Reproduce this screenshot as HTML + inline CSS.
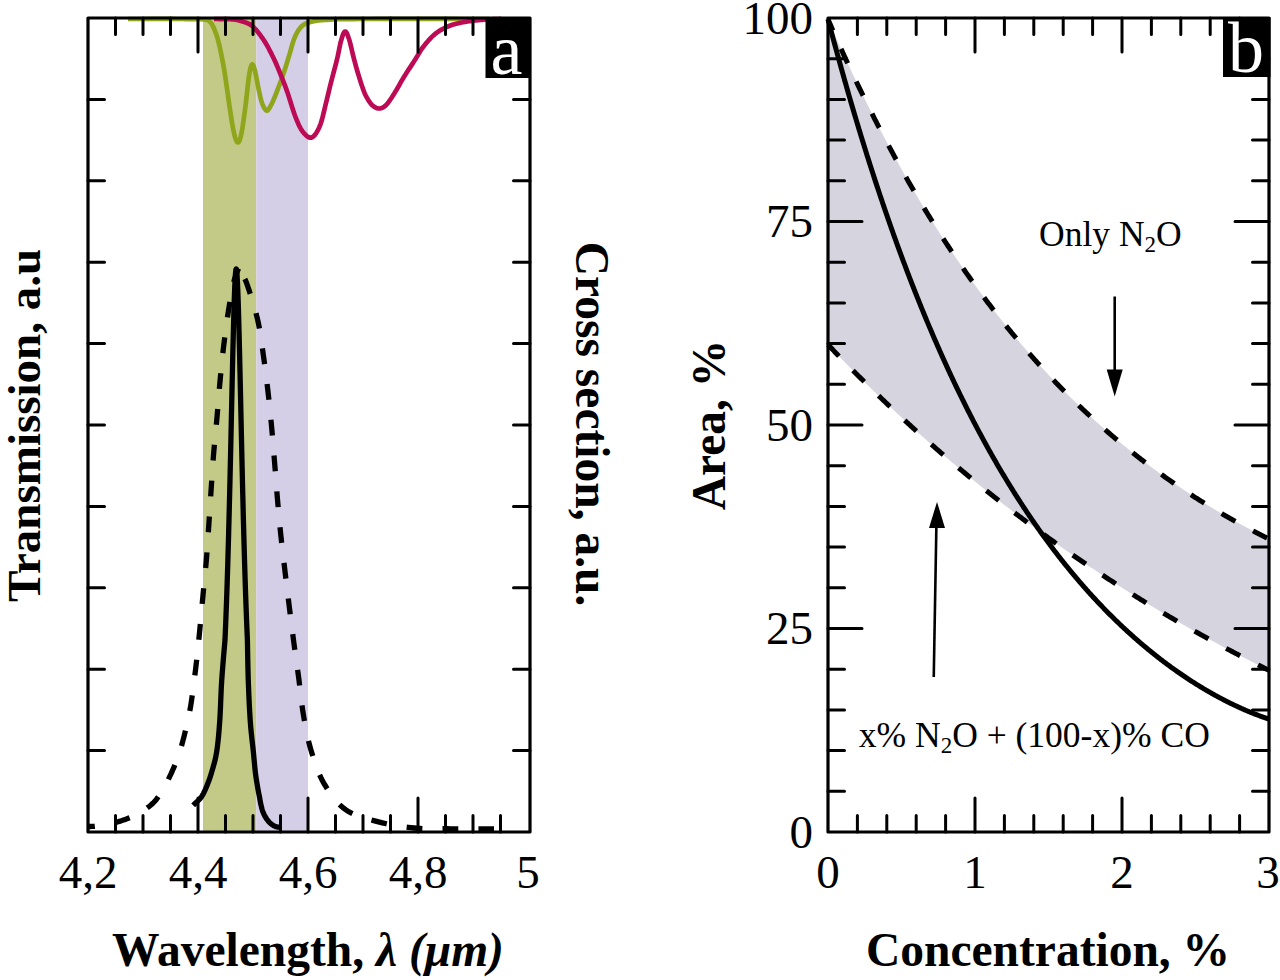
<!DOCTYPE html>
<html><head><meta charset="utf-8"><style>
html,body{margin:0;padding:0;background:#fff;}
body{width:1280px;height:980px;overflow:hidden;font-family:"Liberation Serif",serif;}
svg{display:block;}
</style></head><body>
<svg width="1280" height="980" viewBox="0 0 1280 980">
<rect width="1280" height="980" fill="#fff"/>
<!-- panel a -->
<rect x="203" y="18" width="53.3" height="814" fill="#C3C986"/>
<rect x="256.3" y="18" width="51.7" height="814" fill="#D4CEE6"/>
<path d="M128.00,19.00 L130.60,19.00 L133.98,18.99 L138.00,18.99 L142.52,18.98 L147.40,18.97 L152.50,18.97 L157.69,18.96 L162.81,18.96 L167.75,18.96 L172.35,18.97 L176.48,18.98 L180.00,19.00 L183.04,19.02 L185.82,19.03 L188.38,19.03 L190.72,19.04 L192.87,19.05 L194.84,19.06 L196.65,19.09 L198.33,19.13 L199.88,19.19 L201.33,19.27 L202.70,19.37 L204.00,19.50 L205.17,19.64 L206.13,19.79 L206.92,19.95 L207.57,20.11 L208.09,20.29 L208.52,20.50 L208.89,20.73 L209.21,21.00 L209.51,21.30 L209.83,21.65 L210.18,22.05 L210.60,22.50 L211.05,23.00 L211.47,23.56 L211.87,24.16 L212.25,24.80 L212.62,25.47 L212.97,26.19 L213.32,26.93 L213.66,27.70 L213.99,28.50 L214.33,29.32 L214.66,30.15 L215.00,31.00 L215.33,31.84 L215.66,32.66 L215.97,33.47 L216.27,34.30 L216.57,35.14 L216.87,36.03 L217.17,36.97 L217.47,37.98 L217.79,39.07 L218.11,40.27 L218.45,41.57 L218.80,43.00 L219.18,44.59 L219.57,46.34 L219.99,48.23 L220.41,50.22 L220.85,52.30 L221.29,54.44 L221.72,56.61 L222.15,58.78 L222.57,60.93 L222.97,63.03 L223.35,65.07 L223.70,67.00 L224.03,68.85 L224.33,70.65 L224.62,72.41 L224.89,74.15 L225.15,75.86 L225.40,77.56 L225.65,79.26 L225.89,80.96 L226.13,82.68 L226.38,84.42 L226.64,86.19 L226.90,88.00 L227.17,89.85 L227.44,91.73 L227.71,93.63 L227.97,95.56 L228.24,97.49 L228.51,99.44 L228.78,101.39 L229.06,103.33 L229.34,105.27 L229.62,107.20 L229.91,109.11 L230.20,111.00 L230.50,112.91 L230.80,114.87 L231.11,116.86 L231.43,118.87 L231.74,120.87 L232.06,122.84 L232.38,124.77 L232.71,126.63 L233.03,128.40 L233.36,130.07 L233.68,131.61 L234.00,133.00 L234.32,134.29 L234.65,135.53 L234.97,136.70 L235.30,137.80 L235.63,138.81 L235.96,139.72 L236.29,140.52 L236.62,141.20 L236.94,141.75 L237.27,142.16 L237.59,142.41 L237.90,142.50 L238.21,142.43 L238.51,142.22 L238.81,141.87 L239.11,141.39 L239.40,140.77 L239.69,140.03 L239.99,139.16 L240.28,138.17 L240.58,137.05 L240.88,135.82 L241.19,134.46 L241.50,133.00 L241.82,131.37 L242.15,129.55 L242.48,127.55 L242.82,125.41 L243.16,123.14 L243.51,120.78 L243.85,118.35 L244.19,115.87 L244.53,113.37 L244.86,110.88 L245.18,108.41 L245.50,106.00 L245.81,103.55 L246.12,100.96 L246.42,98.28 L246.72,95.54 L247.02,92.78 L247.31,90.03 L247.60,87.34 L247.89,84.74 L248.17,82.27 L248.45,79.96 L248.73,77.86 L249.00,76.00 L249.27,74.34 L249.53,72.80 L249.79,71.40 L250.04,70.13 L250.29,68.99 L250.53,67.97 L250.78,67.08 L251.02,66.31 L251.26,65.68 L251.51,65.16 L251.75,64.77 L252.00,64.50 L252.25,64.37 L252.49,64.40 L252.73,64.57 L252.97,64.87 L253.21,65.30 L253.45,65.84 L253.69,66.49 L253.94,67.24 L254.19,68.07 L254.45,68.98 L254.72,69.96 L255.00,71.00 L255.29,72.16 L255.59,73.51 L255.91,75.01 L256.23,76.63 L256.56,78.33 L256.89,80.09 L257.22,81.88 L257.55,83.65 L257.87,85.38 L258.19,87.04 L258.50,88.59 L258.80,90.00 L259.08,91.31 L259.35,92.58 L259.61,93.80 L259.87,94.98 L260.12,96.12 L260.36,97.22 L260.61,98.28 L260.87,99.30 L261.13,100.28 L261.40,101.22 L261.69,102.13 L262.00,103.00 L262.33,103.85 L262.67,104.70 L263.03,105.52 L263.41,106.31 L263.79,107.07 L264.17,107.78 L264.56,108.43 L264.95,109.02 L265.33,109.53 L265.70,109.95 L266.06,110.28 L266.40,110.50 L266.72,110.62 L267.03,110.64 L267.32,110.57 L267.60,110.43 L267.88,110.20 L268.16,109.91 L268.43,109.55 L268.72,109.13 L269.01,108.66 L269.32,108.14 L269.65,107.59 L270.00,107.00 L270.36,106.38 L270.73,105.72 L271.10,105.01 L271.49,104.26 L271.88,103.45 L272.28,102.59 L272.70,101.67 L273.14,100.69 L273.59,99.63 L274.07,98.50 L274.57,97.29 L275.10,96.00 L275.67,94.59 L276.28,93.06 L276.92,91.41 L277.60,89.67 L278.29,87.86 L278.99,86.00 L279.70,84.11 L280.40,82.22 L281.09,80.34 L281.76,78.50 L282.40,76.71 L283.00,75.00 L283.57,73.35 L284.11,71.71 L284.64,70.10 L285.15,68.50 L285.65,66.92 L286.14,65.34 L286.62,63.78 L287.09,62.22 L287.57,60.67 L288.04,59.11 L288.52,57.56 L289.00,56.00 L289.48,54.42 L289.95,52.81 L290.41,51.18 L290.86,49.54 L291.32,47.90 L291.77,46.28 L292.23,44.69 L292.69,43.13 L293.17,41.62 L293.66,40.17 L294.17,38.79 L294.70,37.50 L295.24,36.27 L295.78,35.10 L296.33,33.97 L296.89,32.89 L297.46,31.86 L298.04,30.88 L298.64,29.94 L299.26,29.06 L299.90,28.22 L300.57,27.43 L301.27,26.69 L302.00,26.00 L302.75,25.37 L303.52,24.81 L304.30,24.32 L305.11,23.88 L305.93,23.49 L306.79,23.14 L307.67,22.83 L308.59,22.54 L309.55,22.27 L310.55,22.01 L311.60,21.76 L312.70,21.50 L313.82,21.25 L314.92,21.03 L316.04,20.83 L317.17,20.66 L318.35,20.50 L319.58,20.36 L320.88,20.24 L322.27,20.12 L323.76,20.01 L325.37,19.91 L327.11,19.80 L329.00,19.70 L330.75,19.60 L332.17,19.51 L333.40,19.43 L334.58,19.36 L335.86,19.29 L337.39,19.24 L339.32,19.19 L341.79,19.14 L344.94,19.10 L348.93,19.06 L353.90,19.03 L360.00,19.00 L367.78,18.98 L377.44,18.96 L388.59,18.95 L400.81,18.95 L413.73,18.95 L426.94,18.96 L440.04,18.96 L452.63,18.97 L464.32,18.98 L474.71,18.99 L483.40,19.00 L490.00,19.00" fill="none" stroke="#8FA61C" stroke-width="4.7" stroke-linejoin="round"/>
<path d="M214.00,19.00 L214.90,19.01 L216.06,19.02 L217.45,19.02 L219.01,19.03 L220.69,19.03 L222.45,19.04 L224.24,19.06 L226.01,19.09 L227.73,19.12 L229.32,19.17 L230.76,19.23 L232.00,19.30 L233.05,19.38 L233.97,19.46 L234.79,19.55 L235.52,19.64 L236.19,19.74 L236.81,19.86 L237.41,19.99 L238.01,20.14 L238.63,20.31 L239.29,20.51 L240.00,20.74 L240.80,21.00 L241.66,21.27 L242.55,21.54 L243.46,21.81 L244.40,22.09 L245.36,22.39 L246.33,22.73 L247.31,23.11 L248.30,23.54 L249.28,24.04 L250.26,24.61 L251.24,25.26 L252.20,26.00 L253.16,26.84 L254.13,27.77 L255.11,28.77 L256.09,29.85 L257.07,30.99 L258.05,32.19 L259.02,33.43 L259.99,34.70 L260.94,36.01 L261.88,37.33 L262.80,38.66 L263.70,40.00 L264.58,41.36 L265.46,42.77 L266.32,44.22 L267.17,45.70 L268.01,47.22 L268.84,48.75 L269.65,50.30 L270.45,51.85 L271.24,53.41 L272.01,54.95 L272.76,56.49 L273.50,58.00 L274.22,59.51 L274.92,61.02 L275.61,62.55 L276.28,64.07 L276.94,65.60 L277.58,67.12 L278.21,68.64 L278.83,70.15 L279.44,71.64 L280.03,73.12 L280.62,74.57 L281.20,76.00 L281.76,77.37 L282.28,78.68 L282.79,79.93 L283.27,81.15 L283.75,82.35 L284.22,83.56 L284.69,84.80 L285.17,86.07 L285.66,87.41 L286.18,88.84 L286.72,90.36 L287.30,92.00 L287.91,93.80 L288.55,95.76 L289.22,97.85 L289.90,100.04 L290.60,102.29 L291.31,104.56 L292.03,106.84 L292.74,109.07 L293.45,111.24 L294.15,113.31 L294.83,115.24 L295.50,117.00 L296.15,118.63 L296.78,120.19 L297.39,121.68 L298.00,123.09 L298.61,124.44 L299.21,125.72 L299.82,126.93 L300.43,128.07 L301.05,129.15 L301.68,130.17 L302.33,131.11 L303.00,132.00 L303.69,132.85 L304.40,133.67 L305.12,134.45 L305.86,135.19 L306.60,135.85 L307.36,136.44 L308.11,136.93 L308.86,137.31 L309.61,137.58 L310.35,137.71 L311.08,137.68 L311.80,137.50 L312.51,137.15 L313.23,136.63 L313.94,135.98 L314.66,135.19 L315.37,134.27 L316.08,133.25 L316.77,132.13 L317.45,130.93 L318.12,129.65 L318.77,128.31 L319.40,126.92 L320.00,125.50 L320.58,123.98 L321.14,122.32 L321.69,120.53 L322.21,118.65 L322.73,116.69 L323.23,114.69 L323.71,112.66 L324.19,110.63 L324.65,108.62 L325.11,106.67 L325.56,104.79 L326.00,103.00 L326.43,101.31 L326.83,99.70 L327.20,98.14 L327.57,96.63 L327.92,95.14 L328.27,93.66 L328.62,92.16 L328.98,90.65 L329.35,89.09 L329.74,87.47 L330.15,85.78 L330.60,84.00 L331.08,82.10 L331.60,80.10 L332.15,78.01 L332.72,75.85 L333.31,73.65 L333.89,71.44 L334.48,69.22 L335.06,67.04 L335.61,64.90 L336.15,62.83 L336.64,60.86 L337.10,59.00 L337.52,57.23 L337.90,55.50 L338.26,53.81 L338.59,52.17 L338.90,50.57 L339.21,49.03 L339.50,47.54 L339.79,46.11 L340.08,44.74 L340.37,43.43 L340.68,42.18 L341.00,41.00 L341.33,39.86 L341.66,38.73 L341.99,37.63 L342.33,36.57 L342.66,35.58 L342.99,34.66 L343.33,33.82 L343.66,33.09 L344.00,32.48 L344.33,32.00 L344.67,31.67 L345.00,31.50 L345.33,31.50 L345.66,31.64 L345.99,31.93 L346.31,32.35 L346.64,32.89 L346.97,33.53 L347.30,34.27 L347.63,35.09 L347.96,35.99 L348.30,36.95 L348.65,37.95 L349.00,39.00 L349.36,40.15 L349.73,41.44 L350.11,42.86 L350.49,44.37 L350.88,45.96 L351.26,47.59 L351.65,49.25 L352.03,50.91 L352.41,52.54 L352.78,54.11 L353.15,55.61 L353.50,57.00 L353.84,58.30 L354.16,59.55 L354.48,60.76 L354.79,61.93 L355.09,63.07 L355.39,64.19 L355.69,65.30 L355.99,66.41 L356.30,67.52 L356.62,68.66 L356.95,69.81 L357.30,71.00 L357.66,72.23 L358.04,73.50 L358.43,74.80 L358.83,76.11 L359.23,77.43 L359.64,78.75 L360.05,80.05 L360.45,81.33 L360.85,82.58 L361.25,83.78 L361.63,84.92 L362.00,86.00 L362.35,87.01 L362.68,87.97 L363.00,88.88 L363.31,89.74 L363.62,90.57 L363.92,91.38 L364.23,92.16 L364.54,92.93 L364.88,93.69 L365.23,94.45 L365.60,95.22 L366.00,96.00 L366.43,96.80 L366.87,97.62 L367.34,98.45 L367.82,99.28 L368.32,100.10 L368.82,100.91 L369.34,101.69 L369.87,102.44 L370.40,103.16 L370.93,103.83 L371.47,104.45 L372.00,105.00 L372.54,105.50 L373.09,105.97 L373.66,106.40 L374.23,106.80 L374.81,107.15 L375.39,107.47 L375.97,107.75 L376.55,107.98 L377.12,108.18 L377.69,108.33 L378.25,108.44 L378.80,108.50 L379.34,108.51 L379.88,108.48 L380.41,108.39 L380.94,108.26 L381.47,108.09 L381.99,107.88 L382.50,107.63 L383.01,107.35 L383.52,107.05 L384.02,106.72 L384.51,106.37 L385.00,106.00 L385.47,105.61 L385.93,105.19 L386.38,104.75 L386.81,104.28 L387.25,103.78 L387.67,103.25 L388.11,102.69 L388.54,102.11 L388.98,101.50 L389.44,100.86 L389.91,100.19 L390.40,99.50 L390.91,98.77 L391.43,98.00 L391.96,97.19 L392.50,96.35 L393.05,95.48 L393.61,94.59 L394.17,93.68 L394.73,92.76 L395.30,91.82 L395.87,90.88 L396.44,89.94 L397.00,89.00 L397.55,88.07 L398.09,87.14 L398.61,86.22 L399.13,85.30 L399.65,84.36 L400.18,83.41 L400.72,82.43 L401.29,81.43 L401.88,80.39 L402.51,79.31 L403.18,78.18 L403.90,77.00 L404.68,75.75 L405.52,74.42 L406.42,73.02 L407.35,71.57 L408.31,70.09 L409.29,68.59 L410.28,67.09 L411.26,65.59 L412.22,64.12 L413.16,62.69 L414.05,61.31 L414.90,60.00 L415.69,58.75 L416.43,57.54 L417.13,56.37 L417.81,55.22 L418.47,54.10 L419.12,53.00 L419.78,51.91 L420.46,50.83 L421.15,49.76 L421.89,48.68 L422.66,47.60 L423.50,46.50 L424.38,45.38 L425.30,44.25 L426.24,43.10 L427.21,41.94 L428.20,40.79 L429.22,39.66 L430.26,38.54 L431.31,37.44 L432.39,36.39 L433.48,35.37 L434.58,34.41 L435.70,33.50 L436.83,32.65 L437.98,31.83 L439.14,31.05 L440.32,30.31 L441.52,29.61 L442.74,28.94 L443.97,28.30 L445.22,27.69 L446.49,27.10 L447.78,26.54 L449.08,26.01 L450.40,25.50 L451.75,25.02 L453.12,24.58 L454.53,24.17 L455.95,23.79 L457.39,23.44 L458.85,23.12 L460.31,22.82 L461.78,22.53 L463.25,22.26 L464.71,22.00 L466.16,21.75 L467.60,21.50 L469.03,21.26 L470.48,21.05 L471.92,20.85 L473.37,20.66 L474.82,20.49 L476.27,20.34 L477.71,20.19 L479.14,20.06 L480.55,19.93 L481.96,19.82 L483.34,19.71 L484.70,19.60 L486.09,19.50 L487.53,19.42 L489.01,19.34 L490.50,19.28 L491.98,19.23 L493.42,19.18 L494.80,19.14 L496.10,19.11 L497.29,19.08 L498.36,19.05 L499.27,19.02 L500.00,19.00" fill="none" stroke="#BC0A55" stroke-width="4.7" stroke-linejoin="round"/>
<path d="M88.00,826.50 L88.33,826.49 L88.72,826.49 L89.16,826.49 L89.66,826.49 L90.21,826.48 L90.80,826.48 L91.44,826.46 L92.12,826.44 L92.84,826.40 L93.59,826.35 L94.38,826.29 L95.20,826.20 L96.06,826.10 L96.98,825.99 L97.95,825.87 L98.96,825.74 L100.01,825.59 L101.09,825.44 L102.21,825.27 L103.34,825.09 L104.49,824.89 L105.66,824.67 L106.83,824.45 L108.00,824.20 L109.19,823.94 L110.41,823.66 L111.66,823.37 L112.94,823.07 L114.23,822.75 L115.53,822.42 L116.84,822.07 L118.15,821.71 L119.46,821.33 L120.76,820.93 L122.04,820.53 L123.30,820.10 L124.55,819.67 L125.78,819.23 L127.01,818.78 L128.24,818.32 L129.46,817.84 L130.68,817.35 L131.90,816.83 L133.11,816.29 L134.33,815.72 L135.55,815.12 L136.77,814.48 L138.00,813.80 L139.24,813.08 L140.51,812.33 L141.80,811.55 L143.10,810.73 L144.39,809.89 L145.68,809.02 L146.95,808.12 L148.20,807.20 L149.42,806.26 L150.60,805.29 L151.73,804.30 L152.80,803.30 L153.82,802.28 L154.78,801.23 L155.71,800.17 L156.59,799.08 L157.45,797.97 L158.28,796.83 L159.08,795.67 L159.87,794.49 L160.66,793.28 L161.43,792.05 L162.21,790.79 L163.00,789.50 L163.79,788.17 L164.57,786.80 L165.35,785.38 L166.11,783.94 L166.87,782.46 L167.62,780.98 L168.35,779.48 L169.07,777.97 L169.78,776.48 L170.47,775.00 L171.14,773.53 L171.80,772.10 L172.44,770.69 L173.06,769.29 L173.66,767.90 L174.25,766.52 L174.83,765.15 L175.39,763.78 L175.94,762.40 L176.47,761.03 L176.99,759.66 L177.51,758.28 L178.01,756.89 L178.50,755.50 L178.98,754.10 L179.44,752.70 L179.89,751.29 L180.33,749.88 L180.75,748.47 L181.16,747.06 L181.57,745.64 L181.96,744.22 L182.35,742.79 L182.74,741.37 L183.12,739.94 L183.50,738.50 L183.88,737.06 L184.24,735.61 L184.60,734.16 L184.96,732.71 L185.30,731.25 L185.64,729.79 L185.98,728.33 L186.31,726.87 L186.64,725.40 L186.96,723.93 L187.28,722.47 L187.60,721.00 L187.91,719.59 L188.20,718.27 L188.49,717.01 L188.77,715.79 L189.04,714.56 L189.31,713.29 L189.59,711.97 L189.87,710.55 L190.15,709.00 L190.45,707.30 L190.77,705.41 L191.10,703.30 L191.45,700.95 L191.82,698.38 L192.21,695.62 L192.61,692.71 L193.02,689.67 L193.43,686.53 L193.84,683.33 L194.26,680.10 L194.66,676.87 L195.05,673.68 L195.44,670.54 L195.80,667.50 L196.15,664.52 L196.49,661.53 L196.83,658.54 L197.15,655.56 L197.47,652.57 L197.79,649.58 L198.10,646.60 L198.40,643.61 L198.71,640.63 L199.01,637.65 L199.30,634.67 L199.60,631.70 L199.89,628.73 L200.18,625.77 L200.46,622.80 L200.73,619.84 L201.01,616.89 L201.28,613.93 L201.54,610.98 L201.81,608.02 L202.08,605.07 L202.35,602.11 L202.62,599.16 L202.90,596.20 L203.18,593.24 L203.47,590.28 L203.76,587.33 L204.06,584.37 L204.36,581.41 L204.65,578.46 L204.94,575.50 L205.23,572.54 L205.51,569.58 L205.78,566.62 L206.05,563.66 L206.30,560.70 L206.54,557.74 L206.77,554.79 L206.99,551.83 L207.20,548.88 L207.41,545.93 L207.61,542.98 L207.81,540.02 L208.01,537.05 L208.20,534.08 L208.40,531.10 L208.60,528.11 L208.80,525.10 L209.00,522.08 L209.20,519.03 L209.40,515.97 L209.60,512.90 L209.80,509.83 L210.00,506.74 L210.20,503.66 L210.40,500.59 L210.60,497.52 L210.80,494.46 L211.00,491.42 L211.20,488.40 L211.40,485.40 L211.60,482.42 L211.80,479.46 L211.99,476.51 L212.19,473.56 L212.39,470.62 L212.59,467.68 L212.80,464.74 L213.01,461.80 L213.23,458.85 L213.46,455.88 L213.70,452.90 L213.95,449.91 L214.21,446.90 L214.48,443.89 L214.76,440.87 L215.05,437.85 L215.34,434.82 L215.63,431.79 L215.92,428.76 L216.21,425.73 L216.50,422.70 L216.78,419.67 L217.05,416.65 L217.31,413.62 L217.57,410.59 L217.82,407.55 L218.07,404.51 L218.31,401.46 L218.56,398.42 L218.81,395.39 L219.05,392.36 L219.31,389.35 L219.56,386.35 L219.83,383.36 L220.10,380.40 L220.38,377.46 L220.65,374.56 L220.93,371.68 L221.21,368.81 L221.49,365.96 L221.78,363.11 L222.07,360.26 L222.37,357.40 L222.69,354.53 L223.01,351.63 L223.35,348.71 L223.70,345.75 L224.07,342.72 L224.46,339.62 L224.87,336.45 L225.29,333.24 L225.72,330.02 L226.15,326.81 L226.59,323.62 L227.04,320.49 L227.47,317.44 L227.91,314.48 L228.34,311.64 L228.75,308.95 L229.16,306.37 L229.56,303.86 L229.95,301.43 L230.35,299.07 L230.74,296.79 L231.13,294.58 L231.52,292.45 L231.91,290.40 L232.30,288.43 L232.70,286.54 L233.10,284.73 L233.50,283.00 L233.92,281.34 L234.38,279.75 L234.85,278.23 L235.33,276.78 L235.82,275.41 L236.30,274.13 L236.76,272.93 L237.19,271.84 L237.60,270.84 L237.95,269.95 L238.26,269.16 L238.50,268.50" fill="none" stroke="#000" stroke-width="5.3" stroke-dasharray="15.8 20.150" stroke-dashoffset="8.947"/>
<path d="M238.50,268.50 L238.69,268.80 L238.92,269.15 L239.19,269.56 L239.49,270.02 L239.82,270.52 L240.18,271.06 L240.55,271.64 L240.93,272.26 L241.33,272.90 L241.72,273.58 L242.11,274.28 L242.50,275.00 L242.87,275.69 L243.23,276.31 L243.59,276.89 L243.94,277.47 L244.31,278.09 L244.69,278.77 L245.09,279.54 L245.52,280.45 L245.98,281.52 L246.49,282.79 L247.04,284.29 L247.65,286.05 L248.34,288.11 L249.11,290.45 L249.95,293.04 L250.85,295.83 L251.77,298.79 L252.72,301.87 L253.67,305.03 L254.60,308.24 L255.51,311.45 L256.36,314.62 L257.14,317.72 L257.85,320.70 L258.48,323.61 L259.06,326.52 L259.60,329.44 L260.09,332.35 L260.56,335.27 L261.00,338.20 L261.42,341.13 L261.83,344.07 L262.23,347.01 L262.63,349.97 L263.03,352.93 L263.45,355.90 L263.87,358.89 L264.29,361.89 L264.69,364.91 L265.09,367.94 L265.49,370.98 L265.88,374.02 L266.25,377.07 L266.63,380.11 L266.99,383.14 L267.35,386.16 L267.70,389.16 L268.05,392.15 L268.39,395.12 L268.71,398.06 L269.03,400.99 L269.34,403.91 L269.65,406.82 L269.95,409.73 L270.24,412.64 L270.53,415.56 L270.81,418.48 L271.09,421.42 L271.37,424.37 L271.65,427.35 L271.92,430.35 L272.19,433.38 L272.46,436.42 L272.72,439.47 L272.97,442.54 L273.23,445.61 L273.47,448.68 L273.72,451.74 L273.97,454.80 L274.21,457.85 L274.46,460.89 L274.70,463.90 L274.94,466.90 L275.18,469.88 L275.41,472.85 L275.63,475.81 L275.86,478.77 L276.08,481.72 L276.31,484.66 L276.54,487.61 L276.77,490.55 L277.01,493.50 L277.25,496.45 L277.50,499.40 L277.75,502.36 L278.01,505.32 L278.27,508.27 L278.53,511.23 L278.80,514.19 L279.07,517.14 L279.34,520.10 L279.62,523.06 L279.91,526.02 L280.20,528.98 L280.50,531.94 L280.80,534.90 L281.11,537.86 L281.43,540.83 L281.76,543.80 L282.10,546.76 L282.44,549.73 L282.79,552.70 L283.14,555.67 L283.49,558.64 L283.84,561.60 L284.20,564.57 L284.55,567.54 L284.90,570.50 L285.25,573.46 L285.60,576.42 L285.96,579.38 L286.31,582.34 L286.67,585.30 L287.02,588.26 L287.38,591.21 L287.74,594.17 L288.11,597.13 L288.47,600.08 L288.83,603.04 L289.20,606.00 L289.57,608.96 L289.93,611.91 L290.30,614.85 L290.67,617.80 L291.04,620.75 L291.41,623.69 L291.78,626.64 L292.16,629.60 L292.54,632.56 L292.92,635.53 L293.31,638.51 L293.70,641.50 L294.10,644.50 L294.51,647.52 L294.92,650.54 L295.34,653.57 L295.77,656.61 L296.19,659.65 L296.62,662.69 L297.04,665.74 L297.47,668.79 L297.88,671.83 L298.30,674.87 L298.70,677.90 L299.09,680.93 L299.46,683.97 L299.81,687.01 L300.16,690.06 L300.50,693.10 L300.85,696.14 L301.21,699.18 L301.57,702.21 L301.96,705.23 L302.38,708.23 L302.82,711.22 L303.30,714.20 L303.80,717.16 L304.31,720.11 L304.83,723.06 L305.36,725.99 L305.91,728.91 L306.49,731.83 L307.09,734.73 L307.73,737.62 L308.40,740.51 L309.12,743.38 L309.89,746.25 L310.70,749.10 L311.55,751.96 L312.41,754.84 L313.30,757.72 L314.22,760.61 L315.18,763.48 L316.18,766.34 L317.23,769.17 L318.34,771.96 L319.52,774.71 L320.77,777.40 L322.09,780.04 L323.50,782.60 L324.98,785.13 L326.51,787.66 L328.09,790.17 L329.74,792.65 L331.45,795.09 L333.23,797.47 L335.08,799.77 L337.01,801.99 L339.03,804.11 L341.13,806.11 L343.32,807.98 L345.60,809.70 L348.01,811.27 L350.56,812.69 L353.23,813.99 L356.00,815.16 L358.86,816.24 L361.78,817.23 L364.73,818.14 L367.72,818.99 L370.71,819.80 L373.68,820.58 L376.62,821.34 L379.50,822.10 L382.35,822.84 L385.19,823.52 L388.03,824.15 L390.88,824.74 L393.73,825.28 L396.58,825.77 L399.45,826.23 L402.32,826.65 L405.21,827.04 L408.12,827.39 L411.05,827.71 L414.00,828.00 L416.98,828.25 L420.00,828.44 L423.05,828.57 L426.13,828.67 L429.21,828.73 L432.31,828.76 L435.40,828.77 L438.49,828.77 L441.56,828.76 L444.60,828.76 L447.62,828.77 L450.60,828.80 L453.62,828.84 L456.75,828.87 L459.95,828.90 L463.17,828.92 L466.38,828.94 L469.53,828.95 L472.58,828.96 L475.50,828.97 L478.24,828.98 L480.76,828.99 L483.03,828.99 L485.00,829.00 L486.67,829.01 L488.07,829.01 L489.25,829.01 L490.21,829.01 L491.01,829.01 L491.65,829.01 L492.17,829.01 L492.61,829.01 L492.98,829.00 L493.31,829.00 L493.65,829.00 L494.00,829.00" fill="none" stroke="#000" stroke-width="5.3" stroke-dasharray="15.8 20.130" stroke-dashoffset="23.691"/>
<path d="M193.20,805.30 L193.28,805.22 L193.37,805.13 L193.46,805.04 L193.57,804.94 L193.68,804.82 L193.82,804.69 L193.97,804.53 L194.16,804.35 L194.36,804.14 L194.61,803.90 L194.88,803.62 L195.20,803.30 L195.57,802.94 L195.99,802.55 L196.46,802.14 L196.97,801.69 L197.50,801.21 L198.06,800.71 L198.62,800.17 L199.19,799.61 L199.75,799.02 L200.29,798.41 L200.81,797.77 L201.30,797.10 L201.76,796.41 L202.21,795.69 L202.65,794.95 L203.07,794.18 L203.50,793.38 L203.91,792.56 L204.33,791.70 L204.74,790.82 L205.15,789.91 L205.56,788.97 L205.98,788.00 L206.40,787.00 L206.83,785.98 L207.25,784.93 L207.68,783.87 L208.10,782.77 L208.53,781.65 L208.95,780.50 L209.38,779.31 L209.80,778.08 L210.22,776.81 L210.65,775.49 L211.07,774.12 L211.50,772.70 L211.93,771.24 L212.37,769.76 L212.82,768.25 L213.27,766.70 L213.73,765.11 L214.18,763.47 L214.62,761.77 L215.05,760.01 L215.47,758.18 L215.87,756.27 L216.25,754.28 L216.60,752.20 L216.93,750.04 L217.25,747.80 L217.54,745.50 L217.82,743.13 L218.09,740.68 L218.34,738.17 L218.59,735.58 L218.82,732.93 L219.05,730.20 L219.27,727.41 L219.49,724.54 L219.70,721.60 L219.90,718.56 L220.08,715.39 L220.25,712.12 L220.40,708.76 L220.55,705.33 L220.69,701.85 L220.83,698.33 L220.98,694.79 L221.13,691.25 L221.30,687.73 L221.49,684.24 L221.70,680.80 L221.94,677.26 L222.21,673.51 L222.51,669.61 L222.83,665.63 L223.15,661.66 L223.47,657.76 L223.79,653.99 L224.10,650.44 L224.38,647.18 L224.63,644.27 L224.84,641.79 L225.00,639.81 L225.33,632.22 L225.66,624.26 L225.99,615.90 L226.32,607.13 L226.66,597.93 L226.99,588.29 L227.32,578.20 L227.65,567.65 L227.98,556.62 L228.31,545.11 L228.64,533.13 L228.97,520.67 L229.30,507.74 L229.63,494.38 L229.97,480.59 L230.30,466.43 L230.63,451.94 L230.96,437.19 L231.29,422.24 L231.62,407.20 L231.95,392.18 L232.28,377.30 L232.61,362.70 L232.94,348.55 L233.28,335.00 L233.61,322.24 L233.94,310.46 L234.27,299.83 L234.60,290.54 L234.70,288.02 L235.00,281.32 L235.30,276.00 L235.60,272.13 L235.90,269.79 L236.20,269.00 L236.50,269.79 L236.80,272.13 L237.10,276.00 L237.40,281.32 L237.70,288.02 L237.80,290.54 L238.13,299.83 L238.46,310.46 L238.79,322.24 L239.12,335.00 L239.46,348.55 L239.79,362.70 L240.12,377.30 L240.45,392.18 L240.78,407.20 L241.11,422.24 L241.44,437.19 L241.77,451.94 L242.10,466.43 L242.43,480.59 L242.77,494.38 L243.10,507.74 L243.43,520.67 L243.76,533.13 L244.09,545.11 L244.42,556.62 L244.75,567.65 L245.08,578.20 L245.41,588.29 L245.74,597.93 L246.08,607.13 L246.41,615.90 L246.74,624.26 L247.07,632.22 L247.40,639.81 L247.44,641.79 L247.49,644.27 L247.54,647.18 L247.59,650.44 L247.66,653.99 L247.72,657.76 L247.80,661.66 L247.89,665.63 L247.98,669.61 L248.08,673.51 L248.18,677.26 L248.30,680.80 L248.42,684.24 L248.56,687.73 L248.70,691.25 L248.84,694.79 L249.00,698.33 L249.16,701.85 L249.33,705.33 L249.51,708.76 L249.70,712.12 L249.89,715.39 L250.09,718.56 L250.30,721.60 L250.52,724.54 L250.77,727.41 L251.02,730.20 L251.29,732.93 L251.57,735.58 L251.85,738.17 L252.13,740.68 L252.41,743.13 L252.68,745.50 L252.93,747.80 L253.18,750.04 L253.40,752.20 L253.60,754.28 L253.79,756.27 L253.97,758.18 L254.14,760.01 L254.30,761.77 L254.46,763.47 L254.61,765.11 L254.76,766.70 L254.91,768.25 L255.07,769.76 L255.23,771.24 L255.40,772.70 L255.58,774.12 L255.76,775.49 L255.94,776.81 L256.13,778.08 L256.32,779.31 L256.51,780.50 L256.69,781.65 L256.88,782.77 L257.07,783.87 L257.25,784.93 L257.43,785.98 L257.60,787.00 L257.77,788.00 L257.94,788.95 L258.11,789.87 L258.27,790.76 L258.43,791.62 L258.59,792.45 L258.75,793.26 L258.91,794.05 L259.06,794.83 L259.21,795.59 L259.36,796.35 L259.50,797.10 L259.64,797.83 L259.76,798.54 L259.88,799.22 L259.99,799.87 L260.10,800.52 L260.21,801.15 L260.32,801.78 L260.43,802.40 L260.56,803.03 L260.69,803.67 L260.84,804.33 L261.00,805.00 L261.17,805.69 L261.34,806.39 L261.51,807.09 L261.69,807.80 L261.88,808.52 L262.07,809.24 L262.28,809.96 L262.51,810.67 L262.75,811.39 L263.01,812.10 L263.29,812.80 L263.60,813.50 L263.93,814.20 L264.29,814.91 L264.68,815.64 L265.08,816.36 L265.50,817.08 L265.93,817.79 L266.38,818.49 L266.83,819.17 L267.30,819.83 L267.76,820.46 L268.23,821.05 L268.70,821.60 L269.17,822.12 L269.66,822.61 L270.15,823.07 L270.66,823.51 L271.17,823.93 L271.69,824.33 L272.21,824.69 L272.73,825.04 L273.25,825.36 L273.77,825.66 L274.29,825.94 L274.80,826.20 L275.33,826.43 L275.89,826.62 L276.47,826.79 L277.06,826.93 L277.65,827.04 L278.23,827.14 L278.79,827.22 L279.32,827.29 L279.80,827.34 L280.24,827.40 L280.61,827.45 L280.90,827.50" fill="none" stroke="#000" stroke-width="5.3" stroke-linejoin="round"/>
<path d="M115.50,18v16.5 M115.50,832v-16.5 M143.00,18v16.5 M143.00,832v-16.5 M170.50,18v16.5 M170.50,832v-16.5 M198.00,18v34 M198.00,832v-34 M225.50,18v16.5 M225.50,832v-16.5 M253.00,18v16.5 M253.00,832v-16.5 M280.50,18v16.5 M280.50,832v-16.5 M308.00,18v34 M308.00,832v-34 M335.50,18v16.5 M335.50,832v-16.5 M363.00,18v16.5 M363.00,832v-16.5 M390.50,18v16.5 M390.50,832v-16.5 M418.00,18v34 M418.00,832v-34 M445.50,18v16.5 M445.50,832v-16.5 M473.00,18v16.5 M473.00,832v-16.5 M500.50,18v16.5 M500.50,832v-16.5 M88,99.40h16.5 M530,99.40h-16.5 M88,180.80h16.5 M530,180.80h-16.5 M88,262.20h16.5 M530,262.20h-16.5 M88,343.60h16.5 M530,343.60h-16.5 M88,425.00h16.5 M530,425.00h-16.5 M88,506.40h16.5 M530,506.40h-16.5 M88,587.80h16.5 M530,587.80h-16.5 M88,669.20h16.5 M530,669.20h-16.5 M88,750.60h16.5 M530,750.60h-16.5" stroke="#000" stroke-width="3" stroke-linecap="round" fill="none"/>
<rect x="88" y="18" width="442" height="814" fill="none" stroke="#000" stroke-width="3.2" stroke-linejoin="round"/>
<rect x="485.5" y="17" width="45" height="61" fill="#000"/>
<text x="506.5" y="73.5" font-family="Liberation Serif" font-size="72" fill="#fff" text-anchor="middle">a</text>
<!-- panel b -->
<path d="M828.00,19.26 L828.74,20.97 L829.47,22.66 L830.21,24.36 L830.94,26.04 L831.68,27.73 L832.42,29.41 L833.15,31.08 L833.89,32.75 L834.63,34.42 L835.36,36.08 L836.10,37.74 L836.83,39.40 L837.57,41.05 L838.31,42.69 L839.04,44.33 L839.78,45.97 L840.52,47.60 L841.25,49.23 L841.99,50.86 L842.72,52.48 L843.46,54.09 L844.20,55.70 L844.93,57.31 L845.67,58.91 L846.41,60.51 L847.14,62.11 L847.88,63.70 L848.61,65.29 L849.35,66.87 L850.09,68.45 L850.82,70.02 L851.56,71.60 L852.30,73.16 L853.03,74.73 L853.77,76.28 L854.50,77.84 L855.24,79.39 L855.98,80.94 L856.71,82.48 L857.45,84.02 L858.19,85.55 L858.92,87.08 L859.66,88.61 L860.39,90.13 L861.13,91.65 L861.87,93.17 L862.60,94.68 L863.34,96.19 L864.08,97.69 L864.81,99.19 L865.55,100.68 L866.28,102.18 L867.02,103.66 L867.76,105.15 L868.49,106.63 L869.23,108.11 L869.96,109.58 L870.70,111.05 L871.44,112.51 L872.17,113.97 L872.91,115.43 L873.65,116.89 L874.38,118.34 L875.12,119.78 L875.85,121.23 L876.59,122.66 L877.33,124.10 L878.06,125.53 L878.80,126.96 L879.54,128.38 L880.27,129.80 L881.01,131.22 L881.74,132.63 L882.48,134.04 L883.22,135.45 L883.95,136.85 L884.69,138.25 L885.43,139.65 L886.16,141.04 L886.90,142.43 L887.63,143.81 L888.37,145.19 L889.11,146.57 L889.84,147.94 L890.58,149.31 L891.32,150.68 L892.05,152.04 L892.79,153.40 L893.52,154.76 L894.26,156.11 L895.00,157.46 L895.73,158.81 L896.47,160.15 L897.21,161.49 L897.94,162.82 L898.68,164.15 L899.41,165.48 L900.15,166.81 L900.89,168.13 L901.62,169.45 L902.36,170.76 L903.10,172.07 L903.83,173.38 L904.57,174.69 L905.30,175.99 L906.04,177.29 L906.78,178.58 L907.51,179.87 L908.25,181.16 L908.98,182.44 L909.72,183.73 L910.46,185.00 L911.19,186.28 L911.93,187.55 L912.67,188.82 L913.40,190.08 L914.14,191.34 L914.87,192.60 L915.61,193.86 L916.35,195.11 L917.08,196.36 L917.82,197.60 L918.56,198.85 L919.29,200.09 L920.03,201.32 L920.76,202.55 L921.50,203.78 L922.24,205.01 L922.97,206.23 L923.71,207.45 L924.45,208.67 L925.18,209.88 L925.92,211.09 L926.65,212.30 L927.39,213.51 L928.13,214.71 L928.86,215.91 L929.60,217.10 L930.34,218.29 L931.07,219.48 L931.81,220.67 L932.54,221.85 L933.28,223.03 L934.02,224.21 L934.75,225.38 L935.49,226.55 L936.23,227.72 L936.96,228.89 L937.70,230.05 L938.43,231.21 L939.17,232.36 L939.91,233.51 L940.64,234.66 L941.38,235.81 L942.12,236.96 L942.85,238.10 L943.59,239.23 L944.32,240.37 L945.06,241.50 L945.80,242.63 L946.53,243.76 L947.27,244.88 L948.01,246.00 L948.74,247.12 L949.48,248.23 L950.21,249.35 L950.95,250.45 L951.69,251.56 L952.42,252.66 L953.16,253.76 L953.89,254.86 L954.63,255.96 L955.37,257.05 L956.10,258.14 L956.84,259.22 L957.58,260.31 L958.31,261.39 L959.05,262.47 L959.78,263.54 L960.52,264.61 L961.26,265.68 L961.99,266.75 L962.73,267.82 L963.47,268.88 L964.20,269.94 L964.94,270.99 L965.67,272.05 L966.41,273.10 L967.15,274.14 L967.88,275.19 L968.62,276.23 L969.36,277.27 L970.09,278.31 L970.83,279.34 L971.56,280.37 L972.30,281.40 L973.04,282.43 L973.77,283.45 L974.51,284.48 L975.25,285.49 L975.98,286.51 L976.72,287.52 L977.45,288.53 L978.19,289.54 L978.93,290.55 L979.66,291.55 L980.40,292.55 L981.14,293.55 L981.87,294.54 L982.61,295.54 L983.34,296.53 L984.08,297.51 L984.82,298.50 L985.55,299.48 L986.29,300.46 L987.03,301.44 L987.76,302.41 L988.50,303.39 L989.23,304.36 L989.97,305.32 L990.71,306.29 L991.44,307.25 L992.18,308.21 L992.91,309.17 L993.65,310.12 L994.39,311.08 L995.12,312.03 L995.86,312.97 L996.60,313.92 L997.33,314.86 L998.07,315.80 L998.80,316.74 L999.54,317.68 L1000.28,318.61 L1001.01,319.54 L1001.75,320.47 L1002.49,321.39 L1003.22,322.32 L1003.96,323.24 L1004.69,324.16 L1005.43,325.07 L1006.17,325.99 L1006.90,326.90 L1007.64,327.81 L1008.38,328.72 L1009.11,329.62 L1009.85,330.52 L1010.58,331.42 L1011.32,332.32 L1012.06,333.22 L1012.79,334.11 L1013.53,335.00 L1014.27,335.89 L1015.00,336.77 L1015.74,337.66 L1016.47,338.54 L1017.21,339.42 L1017.95,340.30 L1018.68,341.17 L1019.42,342.04 L1020.16,342.91 L1020.89,343.78 L1021.63,344.65 L1022.36,345.51 L1023.10,346.37 L1023.84,347.23 L1024.57,348.09 L1025.31,348.94 L1026.05,349.80 L1026.78,350.65 L1027.52,351.50 L1028.25,352.34 L1028.99,353.19 L1029.73,354.03 L1030.46,354.87 L1031.20,355.70 L1031.93,356.54 L1032.67,357.37 L1033.41,358.20 L1034.14,359.03 L1034.88,359.86 L1035.62,360.68 L1036.35,361.50 L1037.09,362.32 L1037.82,363.14 L1038.56,363.96 L1039.30,364.77 L1040.03,365.58 L1040.77,366.39 L1041.51,367.20 L1042.24,368.01 L1042.98,368.81 L1043.71,369.61 L1044.45,370.41 L1045.19,371.21 L1045.92,372.00 L1046.66,372.80 L1047.40,373.59 L1048.13,374.38 L1048.87,375.16 L1049.60,375.95 L1050.34,376.73 L1051.08,377.51 L1051.81,378.29 L1052.55,379.07 L1053.29,379.84 L1054.02,380.62 L1054.76,381.39 L1055.49,382.16 L1056.23,382.93 L1056.97,383.69 L1057.70,384.45 L1058.44,385.21 L1059.18,385.97 L1059.91,386.73 L1060.65,387.49 L1061.38,388.24 L1062.12,388.99 L1062.86,389.74 L1063.59,390.49 L1064.33,391.23 L1065.07,391.98 L1065.80,392.72 L1066.54,393.46 L1067.27,394.20 L1068.01,394.93 L1068.75,395.67 L1069.48,396.40 L1070.22,397.13 L1070.95,397.86 L1071.69,398.58 L1072.43,399.31 L1073.16,400.03 L1073.90,400.75 L1074.64,401.47 L1075.37,402.19 L1076.11,402.90 L1076.84,403.62 L1077.58,404.33 L1078.32,405.04 L1079.05,405.75 L1079.79,406.45 L1080.53,407.16 L1081.26,407.86 L1082.00,408.56 L1082.73,409.26 L1083.47,409.96 L1084.21,410.65 L1084.94,411.35 L1085.68,412.04 L1086.42,412.73 L1087.15,413.42 L1087.89,414.10 L1088.62,414.79 L1089.36,415.47 L1090.10,416.15 L1090.83,416.83 L1091.57,417.51 L1092.31,418.19 L1093.04,418.86 L1093.78,419.53 L1094.51,420.20 L1095.25,420.87 L1095.99,421.54 L1096.72,422.21 L1097.46,422.87 L1098.20,423.53 L1098.93,424.19 L1099.67,424.85 L1100.40,425.51 L1101.14,426.16 L1101.88,426.82 L1102.61,427.47 L1103.35,428.12 L1104.09,428.77 L1104.82,429.42 L1105.56,430.06 L1106.29,430.70 L1107.03,431.35 L1107.77,431.99 L1108.50,432.63 L1109.24,433.26 L1109.97,433.90 L1110.71,434.53 L1111.45,435.16 L1112.18,435.80 L1112.92,436.42 L1113.66,437.05 L1114.39,437.68 L1115.13,438.30 L1115.86,438.92 L1116.60,439.54 L1117.34,440.16 L1118.07,440.78 L1118.81,441.40 L1119.55,442.01 L1120.28,442.62 L1121.02,443.24 L1121.75,443.85 L1122.49,444.45 L1123.23,445.06 L1123.96,445.67 L1124.70,446.27 L1125.44,446.87 L1126.17,447.47 L1126.91,448.07 L1127.64,448.67 L1128.38,449.26 L1129.12,449.86 L1129.85,450.45 L1130.59,451.04 L1131.33,451.63 L1132.06,452.22 L1132.80,452.81 L1133.53,453.39 L1134.27,453.97 L1135.01,454.56 L1135.74,455.14 L1136.48,455.72 L1137.22,456.29 L1137.95,456.87 L1138.69,457.44 L1139.42,458.02 L1140.16,458.59 L1140.90,459.16 L1141.63,459.73 L1142.37,460.30 L1143.11,460.86 L1143.84,461.43 L1144.58,461.99 L1145.31,462.55 L1146.05,463.11 L1146.79,463.67 L1147.52,464.23 L1148.26,464.78 L1148.99,465.34 L1149.73,465.89 L1150.47,466.44 L1151.20,466.99 L1151.94,467.54 L1152.68,468.09 L1153.41,468.63 L1154.15,469.18 L1154.88,469.72 L1155.62,470.26 L1156.36,470.80 L1157.09,471.34 L1157.83,471.88 L1158.57,472.41 L1159.30,472.95 L1160.04,473.48 L1160.77,474.01 L1161.51,474.54 L1162.25,475.07 L1162.98,475.60 L1163.72,476.13 L1164.46,476.65 L1165.19,477.17 L1165.93,477.70 L1166.66,478.22 L1167.40,478.74 L1168.14,479.26 L1168.87,479.77 L1169.61,480.29 L1170.35,480.80 L1171.08,481.32 L1171.82,481.83 L1172.55,482.34 L1173.29,482.85 L1174.03,483.35 L1174.76,483.86 L1175.50,484.37 L1176.24,484.87 L1176.97,485.37 L1177.71,485.87 L1178.44,486.37 L1179.18,486.87 L1179.92,487.37 L1180.65,487.87 L1181.39,488.36 L1182.13,488.85 L1182.86,489.35 L1183.60,489.84 L1184.33,490.33 L1185.07,490.82 L1185.81,491.30 L1186.54,491.79 L1187.28,492.27 L1188.02,492.76 L1188.75,493.24 L1189.49,493.72 L1190.22,494.20 L1190.96,494.68 L1191.70,495.16 L1192.43,495.63 L1193.17,496.11 L1193.90,496.58 L1194.64,497.05 L1195.38,497.52 L1196.11,497.99 L1196.85,498.46 L1197.59,498.93 L1198.32,499.40 L1199.06,499.86 L1199.79,500.33 L1200.53,500.79 L1201.27,501.25 L1202.00,501.71 L1202.74,502.17 L1203.48,502.63 L1204.21,503.08 L1204.95,503.54 L1205.68,503.99 L1206.42,504.45 L1207.16,504.90 L1207.89,505.35 L1208.63,505.80 L1209.37,506.25 L1210.10,506.70 L1210.84,507.14 L1211.57,507.59 L1212.31,508.03 L1213.05,508.47 L1213.78,508.92 L1214.52,509.36 L1215.26,509.80 L1215.99,510.23 L1216.73,510.67 L1217.46,511.11 L1218.20,511.54 L1218.94,511.98 L1219.67,512.41 L1220.41,512.84 L1221.15,513.27 L1221.88,513.70 L1222.62,514.13 L1223.35,514.56 L1224.09,514.98 L1224.83,515.41 L1225.56,515.83 L1226.30,516.25 L1227.04,516.68 L1227.77,517.10 L1228.51,517.52 L1229.24,517.93 L1229.98,518.35 L1230.72,518.77 L1231.45,519.18 L1232.19,519.60 L1232.92,520.01 L1233.66,520.42 L1234.40,520.83 L1235.13,521.24 L1235.87,521.65 L1236.61,522.06 L1237.34,522.47 L1238.08,522.87 L1238.81,523.28 L1239.55,523.68 L1240.29,524.08 L1241.02,524.49 L1241.76,524.89 L1242.50,525.29 L1243.23,525.68 L1243.97,526.08 L1244.70,526.48 L1245.44,526.87 L1246.18,527.27 L1246.91,527.66 L1247.65,528.05 L1248.39,528.44 L1249.12,528.83 L1249.86,529.22 L1250.59,529.61 L1251.33,530.00 L1252.07,530.39 L1252.80,530.77 L1253.54,531.16 L1254.28,531.54 L1255.01,531.92 L1255.75,532.30 L1256.48,532.68 L1257.22,533.06 L1257.96,533.44 L1258.69,533.82 L1259.43,534.19 L1260.17,534.57 L1260.90,534.94 L1261.64,535.32 L1262.37,535.69 L1263.11,536.06 L1263.85,536.43 L1264.58,536.80 L1265.32,537.17 L1266.06,537.54 L1266.79,537.91 L1267.53,538.27 L1268.26,538.64 L1269.00,539.00 L1269.00,670.34 L1268.26,669.98 L1267.53,669.61 L1266.79,669.25 L1266.06,668.88 L1265.32,668.52 L1264.58,668.15 L1263.85,667.78 L1263.11,667.42 L1262.37,667.05 L1261.64,666.68 L1260.90,666.31 L1260.17,665.94 L1259.43,665.57 L1258.69,665.20 L1257.96,664.83 L1257.22,664.46 L1256.48,664.09 L1255.75,663.72 L1255.01,663.34 L1254.28,662.97 L1253.54,662.60 L1252.80,662.22 L1252.07,661.85 L1251.33,661.48 L1250.59,661.10 L1249.86,660.73 L1249.12,660.35 L1248.39,659.97 L1247.65,659.60 L1246.91,659.22 L1246.18,658.84 L1245.44,658.46 L1244.70,658.08 L1243.97,657.70 L1243.23,657.32 L1242.50,656.94 L1241.76,656.56 L1241.02,656.18 L1240.29,655.80 L1239.55,655.42 L1238.81,655.03 L1238.08,654.65 L1237.34,654.27 L1236.61,653.88 L1235.87,653.50 L1235.13,653.11 L1234.40,652.73 L1233.66,652.34 L1232.92,651.95 L1232.19,651.57 L1231.45,651.18 L1230.72,650.79 L1229.98,650.40 L1229.24,650.01 L1228.51,649.62 L1227.77,649.23 L1227.04,648.84 L1226.30,648.45 L1225.56,648.06 L1224.83,647.67 L1224.09,647.27 L1223.35,646.88 L1222.62,646.49 L1221.88,646.09 L1221.15,645.70 L1220.41,645.30 L1219.67,644.91 L1218.94,644.51 L1218.20,644.11 L1217.46,643.72 L1216.73,643.32 L1215.99,642.92 L1215.26,642.52 L1214.52,642.12 L1213.78,641.72 L1213.05,641.32 L1212.31,640.92 L1211.57,640.52 L1210.84,640.12 L1210.10,639.72 L1209.37,639.32 L1208.63,638.91 L1207.89,638.51 L1207.16,638.10 L1206.42,637.70 L1205.68,637.29 L1204.95,636.89 L1204.21,636.48 L1203.48,636.08 L1202.74,635.67 L1202.00,635.26 L1201.27,634.85 L1200.53,634.44 L1199.79,634.03 L1199.06,633.62 L1198.32,633.21 L1197.59,632.80 L1196.85,632.39 L1196.11,631.98 L1195.38,631.57 L1194.64,631.15 L1193.90,630.74 L1193.17,630.33 L1192.43,629.91 L1191.70,629.50 L1190.96,629.08 L1190.22,628.67 L1189.49,628.25 L1188.75,627.83 L1188.02,627.41 L1187.28,627.00 L1186.54,626.58 L1185.81,626.16 L1185.07,625.74 L1184.33,625.32 L1183.60,624.90 L1182.86,624.48 L1182.13,624.05 L1181.39,623.63 L1180.65,623.21 L1179.92,622.79 L1179.18,622.36 L1178.44,621.94 L1177.71,621.51 L1176.97,621.09 L1176.24,620.66 L1175.50,620.23 L1174.76,619.81 L1174.03,619.38 L1173.29,618.95 L1172.55,618.52 L1171.82,618.09 L1171.08,617.66 L1170.35,617.23 L1169.61,616.80 L1168.87,616.37 L1168.14,615.94 L1167.40,615.50 L1166.66,615.07 L1165.93,614.64 L1165.19,614.20 L1164.46,613.77 L1163.72,613.33 L1162.98,612.90 L1162.25,612.46 L1161.51,612.02 L1160.77,611.58 L1160.04,611.15 L1159.30,610.71 L1158.57,610.27 L1157.83,609.83 L1157.09,609.39 L1156.36,608.95 L1155.62,608.50 L1154.88,608.06 L1154.15,607.62 L1153.41,607.18 L1152.68,606.73 L1151.94,606.29 L1151.20,605.84 L1150.47,605.40 L1149.73,604.95 L1148.99,604.51 L1148.26,604.06 L1147.52,603.61 L1146.79,603.16 L1146.05,602.71 L1145.31,602.26 L1144.58,601.81 L1143.84,601.36 L1143.11,600.91 L1142.37,600.46 L1141.63,600.01 L1140.90,599.56 L1140.16,599.10 L1139.42,598.65 L1138.69,598.19 L1137.95,597.74 L1137.22,597.28 L1136.48,596.83 L1135.74,596.37 L1135.01,595.91 L1134.27,595.45 L1133.53,595.00 L1132.80,594.54 L1132.06,594.08 L1131.33,593.62 L1130.59,593.16 L1129.85,592.69 L1129.12,592.23 L1128.38,591.77 L1127.64,591.31 L1126.91,590.84 L1126.17,590.38 L1125.44,589.91 L1124.70,589.45 L1123.96,588.98 L1123.23,588.52 L1122.49,588.05 L1121.75,587.58 L1121.02,587.11 L1120.28,586.64 L1119.55,586.17 L1118.81,585.70 L1118.07,585.23 L1117.34,584.76 L1116.60,584.29 L1115.86,583.82 L1115.13,583.34 L1114.39,582.87 L1113.66,582.39 L1112.92,581.92 L1112.18,581.44 L1111.45,580.97 L1110.71,580.49 L1109.97,580.01 L1109.24,579.53 L1108.50,579.06 L1107.77,578.58 L1107.03,578.10 L1106.29,577.62 L1105.56,577.13 L1104.82,576.65 L1104.09,576.17 L1103.35,575.69 L1102.61,575.20 L1101.88,574.72 L1101.14,574.24 L1100.40,573.75 L1099.67,573.26 L1098.93,572.78 L1098.20,572.29 L1097.46,571.80 L1096.72,571.31 L1095.99,570.82 L1095.25,570.34 L1094.51,569.84 L1093.78,569.35 L1093.04,568.86 L1092.31,568.37 L1091.57,567.88 L1090.83,567.38 L1090.10,566.89 L1089.36,566.40 L1088.62,565.90 L1087.89,565.40 L1087.15,564.91 L1086.42,564.41 L1085.68,563.91 L1084.94,563.41 L1084.21,562.92 L1083.47,562.42 L1082.73,561.92 L1082.00,561.41 L1081.26,560.91 L1080.53,560.41 L1079.79,559.91 L1079.05,559.40 L1078.32,558.90 L1077.58,558.40 L1076.84,557.89 L1076.11,557.38 L1075.37,556.88 L1074.64,556.37 L1073.90,555.86 L1073.16,555.35 L1072.43,554.84 L1071.69,554.33 L1070.95,553.82 L1070.22,553.31 L1069.48,552.80 L1068.75,552.29 L1068.01,551.78 L1067.27,551.26 L1066.54,550.75 L1065.80,550.23 L1065.07,549.72 L1064.33,549.20 L1063.59,548.68 L1062.86,548.17 L1062.12,547.65 L1061.38,547.13 L1060.65,546.61 L1059.91,546.09 L1059.18,545.57 L1058.44,545.05 L1057.70,544.52 L1056.97,544.00 L1056.23,543.48 L1055.49,542.95 L1054.76,542.43 L1054.02,541.90 L1053.29,541.38 L1052.55,540.85 L1051.81,540.32 L1051.08,539.79 L1050.34,539.27 L1049.60,538.74 L1048.87,538.21 L1048.13,537.67 L1047.40,537.14 L1046.66,536.61 L1045.92,536.08 L1045.19,535.54 L1044.45,535.01 L1043.71,534.48 L1042.98,533.94 L1042.24,533.40 L1041.51,532.87 L1040.77,532.33 L1040.03,531.79 L1039.30,531.25 L1038.56,530.71 L1037.82,530.17 L1037.09,529.63 L1036.35,529.09 L1035.62,528.55 L1034.88,528.00 L1034.14,527.46 L1033.41,526.92 L1032.67,526.37 L1031.93,525.82 L1031.20,525.28 L1030.46,524.73 L1029.73,524.18 L1028.99,523.63 L1028.25,523.08 L1027.52,522.53 L1026.78,521.98 L1026.05,521.43 L1025.31,520.88 L1024.57,520.33 L1023.84,519.77 L1023.10,519.22 L1022.36,518.67 L1021.63,518.11 L1020.89,517.55 L1020.16,517.00 L1019.42,516.44 L1018.68,515.88 L1017.95,515.32 L1017.21,514.76 L1016.47,514.20 L1015.74,513.64 L1015.00,513.08 L1014.27,512.52 L1013.53,511.95 L1012.79,511.39 L1012.06,510.82 L1011.32,510.26 L1010.58,509.69 L1009.85,509.12 L1009.11,508.56 L1008.38,507.99 L1007.64,507.42 L1006.90,506.85 L1006.17,506.28 L1005.43,505.71 L1004.69,505.14 L1003.96,504.56 L1003.22,503.99 L1002.49,503.42 L1001.75,502.84 L1001.01,502.27 L1000.28,501.69 L999.54,501.11 L998.80,500.54 L998.07,499.96 L997.33,499.38 L996.60,498.80 L995.86,498.22 L995.12,497.64 L994.39,497.05 L993.65,496.47 L992.91,495.89 L992.18,495.30 L991.44,494.72 L990.71,494.13 L989.97,493.55 L989.23,492.96 L988.50,492.37 L987.76,491.78 L987.03,491.19 L986.29,490.60 L985.55,490.01 L984.82,489.42 L984.08,488.83 L983.34,488.23 L982.61,487.64 L981.87,487.04 L981.14,486.45 L980.40,485.85 L979.66,485.26 L978.93,484.66 L978.19,484.06 L977.45,483.46 L976.72,482.86 L975.98,482.26 L975.25,481.66 L974.51,481.06 L973.77,480.45 L973.04,479.85 L972.30,479.24 L971.56,478.64 L970.83,478.03 L970.09,477.43 L969.36,476.82 L968.62,476.21 L967.88,475.60 L967.15,474.99 L966.41,474.38 L965.67,473.77 L964.94,473.16 L964.20,472.54 L963.47,471.93 L962.73,471.31 L961.99,470.70 L961.26,470.08 L960.52,469.47 L959.78,468.85 L959.05,468.23 L958.31,467.61 L957.58,466.99 L956.84,466.37 L956.10,465.75 L955.37,465.13 L954.63,464.50 L953.89,463.88 L953.16,463.25 L952.42,462.63 L951.69,462.00 L950.95,461.38 L950.21,460.75 L949.48,460.12 L948.74,459.49 L948.01,458.86 L947.27,458.23 L946.53,457.60 L945.80,456.96 L945.06,456.33 L944.32,455.70 L943.59,455.06 L942.85,454.42 L942.12,453.79 L941.38,453.15 L940.64,452.51 L939.91,451.87 L939.17,451.23 L938.43,450.59 L937.70,449.95 L936.96,449.31 L936.23,448.67 L935.49,448.02 L934.75,447.38 L934.02,446.73 L933.28,446.08 L932.54,445.44 L931.81,444.79 L931.07,444.14 L930.34,443.49 L929.60,442.84 L928.86,442.19 L928.13,441.54 L927.39,440.88 L926.65,440.23 L925.92,439.58 L925.18,438.92 L924.45,438.26 L923.71,437.61 L922.97,436.95 L922.24,436.29 L921.50,435.63 L920.76,434.97 L920.03,434.31 L919.29,433.65 L918.56,432.98 L917.82,432.32 L917.08,431.66 L916.35,430.99 L915.61,430.32 L914.87,429.66 L914.14,428.99 L913.40,428.32 L912.67,427.65 L911.93,426.98 L911.19,426.31 L910.46,425.64 L909.72,424.96 L908.98,424.29 L908.25,423.61 L907.51,422.94 L906.78,422.26 L906.04,421.59 L905.30,420.91 L904.57,420.23 L903.83,419.55 L903.10,418.87 L902.36,418.19 L901.62,417.50 L900.89,416.82 L900.15,416.14 L899.41,415.45 L898.68,414.77 L897.94,414.08 L897.21,413.39 L896.47,412.70 L895.73,412.01 L895.00,411.32 L894.26,410.63 L893.52,409.94 L892.79,409.25 L892.05,408.55 L891.32,407.86 L890.58,407.16 L889.84,406.47 L889.11,405.77 L888.37,405.07 L887.63,404.37 L886.90,403.67 L886.16,402.97 L885.43,402.27 L884.69,401.57 L883.95,400.86 L883.22,400.16 L882.48,399.45 L881.74,398.75 L881.01,398.04 L880.27,397.33 L879.54,396.62 L878.80,395.91 L878.06,395.20 L877.33,394.49 L876.59,393.78 L875.85,393.07 L875.12,392.35 L874.38,391.64 L873.65,390.92 L872.91,390.20 L872.17,389.49 L871.44,388.77 L870.70,388.05 L869.96,387.33 L869.23,386.61 L868.49,385.88 L867.76,385.16 L867.02,384.44 L866.28,383.71 L865.55,382.99 L864.81,382.26 L864.08,381.53 L863.34,380.80 L862.60,380.07 L861.87,379.34 L861.13,378.61 L860.39,377.88 L859.66,377.14 L858.92,376.41 L858.19,375.68 L857.45,374.94 L856.71,374.20 L855.98,373.46 L855.24,372.73 L854.50,371.99 L853.77,371.24 L853.03,370.50 L852.30,369.76 L851.56,369.02 L850.82,368.27 L850.09,367.53 L849.35,366.78 L848.61,366.03 L847.88,365.28 L847.14,364.54 L846.41,363.79 L845.67,363.03 L844.93,362.28 L844.20,361.53 L843.46,360.77 L842.72,360.02 L841.99,359.26 L841.25,358.51 L840.52,357.75 L839.78,356.99 L839.04,356.23 L838.31,355.47 L837.57,354.71 L836.83,353.95 L836.10,353.18 L835.36,352.42 L834.63,351.65 L833.89,350.89 L833.15,350.12 L832.42,349.35 L831.68,348.58 L830.94,347.81 L830.21,347.04 L829.47,346.27 L828.74,345.49 L828.00,344.72 Z" fill="#D5D4DF"/>
<path d="M828.00,19.26 L828.74,20.97 L829.47,22.66 L830.21,24.36 L830.94,26.04 L831.68,27.73 L832.42,29.41 L833.15,31.08 L833.89,32.75 L834.63,34.42 L835.36,36.08 L836.10,37.74 L836.83,39.40 L837.57,41.05 L838.31,42.69 L839.04,44.33 L839.78,45.97 L840.52,47.60 L841.25,49.23 L841.99,50.86 L842.72,52.48 L843.46,54.09 L844.20,55.70 L844.93,57.31 L845.67,58.91 L846.41,60.51 L847.14,62.11 L847.88,63.70 L848.61,65.29 L849.35,66.87 L850.09,68.45 L850.82,70.02 L851.56,71.60 L852.30,73.16 L853.03,74.73 L853.77,76.28 L854.50,77.84 L855.24,79.39 L855.98,80.94 L856.71,82.48 L857.45,84.02 L858.19,85.55 L858.92,87.08 L859.66,88.61 L860.39,90.13 L861.13,91.65 L861.87,93.17 L862.60,94.68 L863.34,96.19 L864.08,97.69 L864.81,99.19 L865.55,100.68 L866.28,102.18 L867.02,103.66 L867.76,105.15 L868.49,106.63 L869.23,108.11 L869.96,109.58 L870.70,111.05 L871.44,112.51 L872.17,113.97 L872.91,115.43 L873.65,116.89 L874.38,118.34 L875.12,119.78 L875.85,121.23 L876.59,122.66 L877.33,124.10 L878.06,125.53 L878.80,126.96 L879.54,128.38 L880.27,129.80 L881.01,131.22 L881.74,132.63 L882.48,134.04 L883.22,135.45 L883.95,136.85 L884.69,138.25 L885.43,139.65 L886.16,141.04 L886.90,142.43 L887.63,143.81 L888.37,145.19 L889.11,146.57 L889.84,147.94 L890.58,149.31 L891.32,150.68 L892.05,152.04 L892.79,153.40 L893.52,154.76 L894.26,156.11 L895.00,157.46 L895.73,158.81 L896.47,160.15 L897.21,161.49 L897.94,162.82 L898.68,164.15 L899.41,165.48 L900.15,166.81 L900.89,168.13 L901.62,169.45 L902.36,170.76 L903.10,172.07 L903.83,173.38 L904.57,174.69 L905.30,175.99 L906.04,177.29 L906.78,178.58 L907.51,179.87 L908.25,181.16 L908.98,182.44 L909.72,183.73 L910.46,185.00 L911.19,186.28 L911.93,187.55 L912.67,188.82 L913.40,190.08 L914.14,191.34 L914.87,192.60 L915.61,193.86 L916.35,195.11 L917.08,196.36 L917.82,197.60 L918.56,198.85 L919.29,200.09 L920.03,201.32 L920.76,202.55 L921.50,203.78 L922.24,205.01 L922.97,206.23 L923.71,207.45 L924.45,208.67 L925.18,209.88 L925.92,211.09 L926.65,212.30 L927.39,213.51 L928.13,214.71 L928.86,215.91 L929.60,217.10 L930.34,218.29 L931.07,219.48 L931.81,220.67 L932.54,221.85 L933.28,223.03 L934.02,224.21 L934.75,225.38 L935.49,226.55 L936.23,227.72 L936.96,228.89 L937.70,230.05 L938.43,231.21 L939.17,232.36 L939.91,233.51 L940.64,234.66 L941.38,235.81 L942.12,236.96 L942.85,238.10 L943.59,239.23 L944.32,240.37 L945.06,241.50 L945.80,242.63 L946.53,243.76 L947.27,244.88 L948.01,246.00 L948.74,247.12 L949.48,248.23 L950.21,249.35 L950.95,250.45 L951.69,251.56 L952.42,252.66 L953.16,253.76 L953.89,254.86 L954.63,255.96 L955.37,257.05 L956.10,258.14 L956.84,259.22 L957.58,260.31 L958.31,261.39 L959.05,262.47 L959.78,263.54 L960.52,264.61 L961.26,265.68 L961.99,266.75 L962.73,267.82 L963.47,268.88 L964.20,269.94 L964.94,270.99 L965.67,272.05 L966.41,273.10 L967.15,274.14 L967.88,275.19 L968.62,276.23 L969.36,277.27 L970.09,278.31 L970.83,279.34 L971.56,280.37 L972.30,281.40 L973.04,282.43 L973.77,283.45 L974.51,284.48 L975.25,285.49 L975.98,286.51 L976.72,287.52 L977.45,288.53 L978.19,289.54 L978.93,290.55 L979.66,291.55 L980.40,292.55 L981.14,293.55 L981.87,294.54 L982.61,295.54 L983.34,296.53 L984.08,297.51 L984.82,298.50 L985.55,299.48 L986.29,300.46 L987.03,301.44 L987.76,302.41 L988.50,303.39 L989.23,304.36 L989.97,305.32 L990.71,306.29 L991.44,307.25 L992.18,308.21 L992.91,309.17 L993.65,310.12 L994.39,311.08 L995.12,312.03 L995.86,312.97 L996.60,313.92 L997.33,314.86 L998.07,315.80 L998.80,316.74 L999.54,317.68 L1000.28,318.61 L1001.01,319.54 L1001.75,320.47 L1002.49,321.39 L1003.22,322.32 L1003.96,323.24 L1004.69,324.16 L1005.43,325.07 L1006.17,325.99 L1006.90,326.90 L1007.64,327.81 L1008.38,328.72 L1009.11,329.62 L1009.85,330.52 L1010.58,331.42 L1011.32,332.32 L1012.06,333.22 L1012.79,334.11 L1013.53,335.00 L1014.27,335.89 L1015.00,336.77 L1015.74,337.66 L1016.47,338.54 L1017.21,339.42 L1017.95,340.30 L1018.68,341.17 L1019.42,342.04 L1020.16,342.91 L1020.89,343.78 L1021.63,344.65 L1022.36,345.51 L1023.10,346.37 L1023.84,347.23 L1024.57,348.09 L1025.31,348.94 L1026.05,349.80 L1026.78,350.65 L1027.52,351.50 L1028.25,352.34 L1028.99,353.19 L1029.73,354.03 L1030.46,354.87 L1031.20,355.70 L1031.93,356.54 L1032.67,357.37 L1033.41,358.20 L1034.14,359.03 L1034.88,359.86 L1035.62,360.68 L1036.35,361.50 L1037.09,362.32 L1037.82,363.14 L1038.56,363.96 L1039.30,364.77 L1040.03,365.58 L1040.77,366.39 L1041.51,367.20 L1042.24,368.01 L1042.98,368.81 L1043.71,369.61 L1044.45,370.41 L1045.19,371.21 L1045.92,372.00 L1046.66,372.80 L1047.40,373.59 L1048.13,374.38 L1048.87,375.16 L1049.60,375.95 L1050.34,376.73 L1051.08,377.51 L1051.81,378.29 L1052.55,379.07 L1053.29,379.84 L1054.02,380.62 L1054.76,381.39 L1055.49,382.16 L1056.23,382.93 L1056.97,383.69 L1057.70,384.45 L1058.44,385.21 L1059.18,385.97 L1059.91,386.73 L1060.65,387.49 L1061.38,388.24 L1062.12,388.99 L1062.86,389.74 L1063.59,390.49 L1064.33,391.23 L1065.07,391.98 L1065.80,392.72 L1066.54,393.46 L1067.27,394.20 L1068.01,394.93 L1068.75,395.67 L1069.48,396.40 L1070.22,397.13 L1070.95,397.86 L1071.69,398.58 L1072.43,399.31 L1073.16,400.03 L1073.90,400.75 L1074.64,401.47 L1075.37,402.19 L1076.11,402.90 L1076.84,403.62 L1077.58,404.33 L1078.32,405.04 L1079.05,405.75 L1079.79,406.45 L1080.53,407.16 L1081.26,407.86 L1082.00,408.56 L1082.73,409.26 L1083.47,409.96 L1084.21,410.65 L1084.94,411.35 L1085.68,412.04 L1086.42,412.73 L1087.15,413.42 L1087.89,414.10 L1088.62,414.79 L1089.36,415.47 L1090.10,416.15 L1090.83,416.83 L1091.57,417.51 L1092.31,418.19 L1093.04,418.86 L1093.78,419.53 L1094.51,420.20 L1095.25,420.87 L1095.99,421.54 L1096.72,422.21 L1097.46,422.87 L1098.20,423.53 L1098.93,424.19 L1099.67,424.85 L1100.40,425.51 L1101.14,426.16 L1101.88,426.82 L1102.61,427.47 L1103.35,428.12 L1104.09,428.77 L1104.82,429.42 L1105.56,430.06 L1106.29,430.70 L1107.03,431.35 L1107.77,431.99 L1108.50,432.63 L1109.24,433.26 L1109.97,433.90 L1110.71,434.53 L1111.45,435.16 L1112.18,435.80 L1112.92,436.42 L1113.66,437.05 L1114.39,437.68 L1115.13,438.30 L1115.86,438.92 L1116.60,439.54 L1117.34,440.16 L1118.07,440.78 L1118.81,441.40 L1119.55,442.01 L1120.28,442.62 L1121.02,443.24 L1121.75,443.85 L1122.49,444.45 L1123.23,445.06 L1123.96,445.67 L1124.70,446.27 L1125.44,446.87 L1126.17,447.47 L1126.91,448.07 L1127.64,448.67 L1128.38,449.26 L1129.12,449.86 L1129.85,450.45 L1130.59,451.04 L1131.33,451.63 L1132.06,452.22 L1132.80,452.81 L1133.53,453.39 L1134.27,453.97 L1135.01,454.56 L1135.74,455.14 L1136.48,455.72 L1137.22,456.29 L1137.95,456.87 L1138.69,457.44 L1139.42,458.02 L1140.16,458.59 L1140.90,459.16 L1141.63,459.73 L1142.37,460.30 L1143.11,460.86 L1143.84,461.43 L1144.58,461.99 L1145.31,462.55 L1146.05,463.11 L1146.79,463.67 L1147.52,464.23 L1148.26,464.78 L1148.99,465.34 L1149.73,465.89 L1150.47,466.44 L1151.20,466.99 L1151.94,467.54 L1152.68,468.09 L1153.41,468.63 L1154.15,469.18 L1154.88,469.72 L1155.62,470.26 L1156.36,470.80 L1157.09,471.34 L1157.83,471.88 L1158.57,472.41 L1159.30,472.95 L1160.04,473.48 L1160.77,474.01 L1161.51,474.54 L1162.25,475.07 L1162.98,475.60 L1163.72,476.13 L1164.46,476.65 L1165.19,477.17 L1165.93,477.70 L1166.66,478.22 L1167.40,478.74 L1168.14,479.26 L1168.87,479.77 L1169.61,480.29 L1170.35,480.80 L1171.08,481.32 L1171.82,481.83 L1172.55,482.34 L1173.29,482.85 L1174.03,483.35 L1174.76,483.86 L1175.50,484.37 L1176.24,484.87 L1176.97,485.37 L1177.71,485.87 L1178.44,486.37 L1179.18,486.87 L1179.92,487.37 L1180.65,487.87 L1181.39,488.36 L1182.13,488.85 L1182.86,489.35 L1183.60,489.84 L1184.33,490.33 L1185.07,490.82 L1185.81,491.30 L1186.54,491.79 L1187.28,492.27 L1188.02,492.76 L1188.75,493.24 L1189.49,493.72 L1190.22,494.20 L1190.96,494.68 L1191.70,495.16 L1192.43,495.63 L1193.17,496.11 L1193.90,496.58 L1194.64,497.05 L1195.38,497.52 L1196.11,497.99 L1196.85,498.46 L1197.59,498.93 L1198.32,499.40 L1199.06,499.86 L1199.79,500.33 L1200.53,500.79 L1201.27,501.25 L1202.00,501.71 L1202.74,502.17 L1203.48,502.63 L1204.21,503.08 L1204.95,503.54 L1205.68,503.99 L1206.42,504.45 L1207.16,504.90 L1207.89,505.35 L1208.63,505.80 L1209.37,506.25 L1210.10,506.70 L1210.84,507.14 L1211.57,507.59 L1212.31,508.03 L1213.05,508.47 L1213.78,508.92 L1214.52,509.36 L1215.26,509.80 L1215.99,510.23 L1216.73,510.67 L1217.46,511.11 L1218.20,511.54 L1218.94,511.98 L1219.67,512.41 L1220.41,512.84 L1221.15,513.27 L1221.88,513.70 L1222.62,514.13 L1223.35,514.56 L1224.09,514.98 L1224.83,515.41 L1225.56,515.83 L1226.30,516.25 L1227.04,516.68 L1227.77,517.10 L1228.51,517.52 L1229.24,517.93 L1229.98,518.35 L1230.72,518.77 L1231.45,519.18 L1232.19,519.60 L1232.92,520.01 L1233.66,520.42 L1234.40,520.83 L1235.13,521.24 L1235.87,521.65 L1236.61,522.06 L1237.34,522.47 L1238.08,522.87 L1238.81,523.28 L1239.55,523.68 L1240.29,524.08 L1241.02,524.49 L1241.76,524.89 L1242.50,525.29 L1243.23,525.68 L1243.97,526.08 L1244.70,526.48 L1245.44,526.87 L1246.18,527.27 L1246.91,527.66 L1247.65,528.05 L1248.39,528.44 L1249.12,528.83 L1249.86,529.22 L1250.59,529.61 L1251.33,530.00 L1252.07,530.39 L1252.80,530.77 L1253.54,531.16 L1254.28,531.54 L1255.01,531.92 L1255.75,532.30 L1256.48,532.68 L1257.22,533.06 L1257.96,533.44 L1258.69,533.82 L1259.43,534.19 L1260.17,534.57 L1260.90,534.94 L1261.64,535.32 L1262.37,535.69 L1263.11,536.06 L1263.85,536.43 L1264.58,536.80 L1265.32,537.17 L1266.06,537.54 L1266.79,537.91 L1267.53,538.27 L1268.26,538.64 L1269.00,539.00" fill="none" stroke="#000" stroke-width="5" stroke-dasharray="15.8 20.123" stroke-dashoffset="3.543"/>
<path d="M828.00,344.72 L828.74,345.49 L829.47,346.27 L830.21,347.04 L830.94,347.81 L831.68,348.58 L832.42,349.35 L833.15,350.12 L833.89,350.89 L834.63,351.65 L835.36,352.42 L836.10,353.18 L836.83,353.95 L837.57,354.71 L838.31,355.47 L839.04,356.23 L839.78,356.99 L840.52,357.75 L841.25,358.51 L841.99,359.26 L842.72,360.02 L843.46,360.77 L844.20,361.53 L844.93,362.28 L845.67,363.03 L846.41,363.79 L847.14,364.54 L847.88,365.28 L848.61,366.03 L849.35,366.78 L850.09,367.53 L850.82,368.27 L851.56,369.02 L852.30,369.76 L853.03,370.50 L853.77,371.24 L854.50,371.99 L855.24,372.73 L855.98,373.46 L856.71,374.20 L857.45,374.94 L858.19,375.68 L858.92,376.41 L859.66,377.14 L860.39,377.88 L861.13,378.61 L861.87,379.34 L862.60,380.07 L863.34,380.80 L864.08,381.53 L864.81,382.26 L865.55,382.99 L866.28,383.71 L867.02,384.44 L867.76,385.16 L868.49,385.88 L869.23,386.61 L869.96,387.33 L870.70,388.05 L871.44,388.77 L872.17,389.49 L872.91,390.20 L873.65,390.92 L874.38,391.64 L875.12,392.35 L875.85,393.07 L876.59,393.78 L877.33,394.49 L878.06,395.20 L878.80,395.91 L879.54,396.62 L880.27,397.33 L881.01,398.04 L881.74,398.75 L882.48,399.45 L883.22,400.16 L883.95,400.86 L884.69,401.57 L885.43,402.27 L886.16,402.97 L886.90,403.67 L887.63,404.37 L888.37,405.07 L889.11,405.77 L889.84,406.47 L890.58,407.16 L891.32,407.86 L892.05,408.55 L892.79,409.25 L893.52,409.94 L894.26,410.63 L895.00,411.32 L895.73,412.01 L896.47,412.70 L897.21,413.39 L897.94,414.08 L898.68,414.77 L899.41,415.45 L900.15,416.14 L900.89,416.82 L901.62,417.50 L902.36,418.19 L903.10,418.87 L903.83,419.55 L904.57,420.23 L905.30,420.91 L906.04,421.59 L906.78,422.26 L907.51,422.94 L908.25,423.61 L908.98,424.29 L909.72,424.96 L910.46,425.64 L911.19,426.31 L911.93,426.98 L912.67,427.65 L913.40,428.32 L914.14,428.99 L914.87,429.66 L915.61,430.32 L916.35,430.99 L917.08,431.66 L917.82,432.32 L918.56,432.98 L919.29,433.65 L920.03,434.31 L920.76,434.97 L921.50,435.63 L922.24,436.29 L922.97,436.95 L923.71,437.61 L924.45,438.26 L925.18,438.92 L925.92,439.58 L926.65,440.23 L927.39,440.88 L928.13,441.54 L928.86,442.19 L929.60,442.84 L930.34,443.49 L931.07,444.14 L931.81,444.79 L932.54,445.44 L933.28,446.08 L934.02,446.73 L934.75,447.38 L935.49,448.02 L936.23,448.67 L936.96,449.31 L937.70,449.95 L938.43,450.59 L939.17,451.23 L939.91,451.87 L940.64,452.51 L941.38,453.15 L942.12,453.79 L942.85,454.42 L943.59,455.06 L944.32,455.70 L945.06,456.33 L945.80,456.96 L946.53,457.60 L947.27,458.23 L948.01,458.86 L948.74,459.49 L949.48,460.12 L950.21,460.75 L950.95,461.38 L951.69,462.00 L952.42,462.63 L953.16,463.25 L953.89,463.88 L954.63,464.50 L955.37,465.13 L956.10,465.75 L956.84,466.37 L957.58,466.99 L958.31,467.61 L959.05,468.23 L959.78,468.85 L960.52,469.47 L961.26,470.08 L961.99,470.70 L962.73,471.31 L963.47,471.93 L964.20,472.54 L964.94,473.16 L965.67,473.77 L966.41,474.38 L967.15,474.99 L967.88,475.60 L968.62,476.21 L969.36,476.82 L970.09,477.43 L970.83,478.03 L971.56,478.64 L972.30,479.24 L973.04,479.85 L973.77,480.45 L974.51,481.06 L975.25,481.66 L975.98,482.26 L976.72,482.86 L977.45,483.46 L978.19,484.06 L978.93,484.66 L979.66,485.26 L980.40,485.85 L981.14,486.45 L981.87,487.04 L982.61,487.64 L983.34,488.23 L984.08,488.83 L984.82,489.42 L985.55,490.01 L986.29,490.60 L987.03,491.19 L987.76,491.78 L988.50,492.37 L989.23,492.96 L989.97,493.55 L990.71,494.13 L991.44,494.72 L992.18,495.30 L992.91,495.89 L993.65,496.47 L994.39,497.05 L995.12,497.64 L995.86,498.22 L996.60,498.80 L997.33,499.38 L998.07,499.96 L998.80,500.54 L999.54,501.11 L1000.28,501.69 L1001.01,502.27 L1001.75,502.84 L1002.49,503.42 L1003.22,503.99 L1003.96,504.56 L1004.69,505.14 L1005.43,505.71 L1006.17,506.28 L1006.90,506.85 L1007.64,507.42 L1008.38,507.99 L1009.11,508.56 L1009.85,509.12 L1010.58,509.69 L1011.32,510.26 L1012.06,510.82 L1012.79,511.39 L1013.53,511.95 L1014.27,512.52 L1015.00,513.08 L1015.74,513.64 L1016.47,514.20 L1017.21,514.76 L1017.95,515.32 L1018.68,515.88 L1019.42,516.44 L1020.16,517.00 L1020.89,517.55 L1021.63,518.11 L1022.36,518.67 L1023.10,519.22 L1023.84,519.77 L1024.57,520.33 L1025.31,520.88 L1026.05,521.43 L1026.78,521.98 L1027.52,522.53 L1028.25,523.08 L1028.99,523.63 L1029.73,524.18 L1030.46,524.73 L1031.20,525.28 L1031.93,525.82 L1032.67,526.37 L1033.41,526.92 L1034.14,527.46 L1034.88,528.00 L1035.62,528.55 L1036.35,529.09 L1037.09,529.63 L1037.82,530.17 L1038.56,530.71 L1039.30,531.25 L1040.03,531.79 L1040.77,532.33 L1041.51,532.87 L1042.24,533.40 L1042.98,533.94 L1043.71,534.48 L1044.45,535.01 L1045.19,535.54 L1045.92,536.08 L1046.66,536.61 L1047.40,537.14 L1048.13,537.67 L1048.87,538.21 L1049.60,538.74 L1050.34,539.27 L1051.08,539.79 L1051.81,540.32 L1052.55,540.85 L1053.29,541.38 L1054.02,541.90 L1054.76,542.43 L1055.49,542.95 L1056.23,543.48 L1056.97,544.00 L1057.70,544.52 L1058.44,545.05 L1059.18,545.57 L1059.91,546.09 L1060.65,546.61 L1061.38,547.13 L1062.12,547.65 L1062.86,548.17 L1063.59,548.68 L1064.33,549.20 L1065.07,549.72 L1065.80,550.23 L1066.54,550.75 L1067.27,551.26 L1068.01,551.78 L1068.75,552.29 L1069.48,552.80 L1070.22,553.31 L1070.95,553.82 L1071.69,554.33 L1072.43,554.84 L1073.16,555.35 L1073.90,555.86 L1074.64,556.37 L1075.37,556.88 L1076.11,557.38 L1076.84,557.89 L1077.58,558.40 L1078.32,558.90 L1079.05,559.40 L1079.79,559.91 L1080.53,560.41 L1081.26,560.91 L1082.00,561.41 L1082.73,561.92 L1083.47,562.42 L1084.21,562.92 L1084.94,563.41 L1085.68,563.91 L1086.42,564.41 L1087.15,564.91 L1087.89,565.40 L1088.62,565.90 L1089.36,566.40 L1090.10,566.89 L1090.83,567.38 L1091.57,567.88 L1092.31,568.37 L1093.04,568.86 L1093.78,569.35 L1094.51,569.84 L1095.25,570.34 L1095.99,570.82 L1096.72,571.31 L1097.46,571.80 L1098.20,572.29 L1098.93,572.78 L1099.67,573.26 L1100.40,573.75 L1101.14,574.24 L1101.88,574.72 L1102.61,575.20 L1103.35,575.69 L1104.09,576.17 L1104.82,576.65 L1105.56,577.13 L1106.29,577.62 L1107.03,578.10 L1107.77,578.58 L1108.50,579.06 L1109.24,579.53 L1109.97,580.01 L1110.71,580.49 L1111.45,580.97 L1112.18,581.44 L1112.92,581.92 L1113.66,582.39 L1114.39,582.87 L1115.13,583.34 L1115.86,583.82 L1116.60,584.29 L1117.34,584.76 L1118.07,585.23 L1118.81,585.70 L1119.55,586.17 L1120.28,586.64 L1121.02,587.11 L1121.75,587.58 L1122.49,588.05 L1123.23,588.52 L1123.96,588.98 L1124.70,589.45 L1125.44,589.91 L1126.17,590.38 L1126.91,590.84 L1127.64,591.31 L1128.38,591.77 L1129.12,592.23 L1129.85,592.69 L1130.59,593.16 L1131.33,593.62 L1132.06,594.08 L1132.80,594.54 L1133.53,595.00 L1134.27,595.45 L1135.01,595.91 L1135.74,596.37 L1136.48,596.83 L1137.22,597.28 L1137.95,597.74 L1138.69,598.19 L1139.42,598.65 L1140.16,599.10 L1140.90,599.56 L1141.63,600.01 L1142.37,600.46 L1143.11,600.91 L1143.84,601.36 L1144.58,601.81 L1145.31,602.26 L1146.05,602.71 L1146.79,603.16 L1147.52,603.61 L1148.26,604.06 L1148.99,604.51 L1149.73,604.95 L1150.47,605.40 L1151.20,605.84 L1151.94,606.29 L1152.68,606.73 L1153.41,607.18 L1154.15,607.62 L1154.88,608.06 L1155.62,608.50 L1156.36,608.95 L1157.09,609.39 L1157.83,609.83 L1158.57,610.27 L1159.30,610.71 L1160.04,611.15 L1160.77,611.58 L1161.51,612.02 L1162.25,612.46 L1162.98,612.90 L1163.72,613.33 L1164.46,613.77 L1165.19,614.20 L1165.93,614.64 L1166.66,615.07 L1167.40,615.50 L1168.14,615.94 L1168.87,616.37 L1169.61,616.80 L1170.35,617.23 L1171.08,617.66 L1171.82,618.09 L1172.55,618.52 L1173.29,618.95 L1174.03,619.38 L1174.76,619.81 L1175.50,620.23 L1176.24,620.66 L1176.97,621.09 L1177.71,621.51 L1178.44,621.94 L1179.18,622.36 L1179.92,622.79 L1180.65,623.21 L1181.39,623.63 L1182.13,624.05 L1182.86,624.48 L1183.60,624.90 L1184.33,625.32 L1185.07,625.74 L1185.81,626.16 L1186.54,626.58 L1187.28,627.00 L1188.02,627.41 L1188.75,627.83 L1189.49,628.25 L1190.22,628.67 L1190.96,629.08 L1191.70,629.50 L1192.43,629.91 L1193.17,630.33 L1193.90,630.74 L1194.64,631.15 L1195.38,631.57 L1196.11,631.98 L1196.85,632.39 L1197.59,632.80 L1198.32,633.21 L1199.06,633.62 L1199.79,634.03 L1200.53,634.44 L1201.27,634.85 L1202.00,635.26 L1202.74,635.67 L1203.48,636.08 L1204.21,636.48 L1204.95,636.89 L1205.68,637.29 L1206.42,637.70 L1207.16,638.10 L1207.89,638.51 L1208.63,638.91 L1209.37,639.32 L1210.10,639.72 L1210.84,640.12 L1211.57,640.52 L1212.31,640.92 L1213.05,641.32 L1213.78,641.72 L1214.52,642.12 L1215.26,642.52 L1215.99,642.92 L1216.73,643.32 L1217.46,643.72 L1218.20,644.11 L1218.94,644.51 L1219.67,644.91 L1220.41,645.30 L1221.15,645.70 L1221.88,646.09 L1222.62,646.49 L1223.35,646.88 L1224.09,647.27 L1224.83,647.67 L1225.56,648.06 L1226.30,648.45 L1227.04,648.84 L1227.77,649.23 L1228.51,649.62 L1229.24,650.01 L1229.98,650.40 L1230.72,650.79 L1231.45,651.18 L1232.19,651.57 L1232.92,651.95 L1233.66,652.34 L1234.40,652.73 L1235.13,653.11 L1235.87,653.50 L1236.61,653.88 L1237.34,654.27 L1238.08,654.65 L1238.81,655.03 L1239.55,655.42 L1240.29,655.80 L1241.02,656.18 L1241.76,656.56 L1242.50,656.94 L1243.23,657.32 L1243.97,657.70 L1244.70,658.08 L1245.44,658.46 L1246.18,658.84 L1246.91,659.22 L1247.65,659.60 L1248.39,659.97 L1249.12,660.35 L1249.86,660.73 L1250.59,661.10 L1251.33,661.48 L1252.07,661.85 L1252.80,662.22 L1253.54,662.60 L1254.28,662.97 L1255.01,663.34 L1255.75,663.72 L1256.48,664.09 L1257.22,664.46 L1257.96,664.83 L1258.69,665.20 L1259.43,665.57 L1260.17,665.94 L1260.90,666.31 L1261.64,666.68 L1262.37,667.05 L1263.11,667.42 L1263.85,667.78 L1264.58,668.15 L1265.32,668.52 L1266.06,668.88 L1266.79,669.25 L1267.53,669.61 L1268.26,669.98 L1269.00,670.34" fill="none" stroke="#000" stroke-width="5" stroke-dasharray="15.8 20.123" stroke-dashoffset="35.900"/>
<path d="M828.00,19.13 L828.74,21.93 L829.47,24.73 L830.21,27.51 L830.94,30.29 L831.68,33.05 L832.42,35.81 L833.15,38.55 L833.89,41.29 L834.63,44.02 L835.36,46.73 L836.10,49.44 L836.83,52.14 L837.57,54.83 L838.31,57.51 L839.04,60.18 L839.78,62.85 L840.52,65.50 L841.25,68.14 L841.99,70.78 L842.72,73.40 L843.46,76.02 L844.20,78.63 L844.93,81.22 L845.67,83.81 L846.41,86.39 L847.14,88.97 L847.88,91.53 L848.61,94.08 L849.35,96.63 L850.09,99.16 L850.82,101.69 L851.56,104.21 L852.30,106.72 L853.03,109.22 L853.77,111.71 L854.50,114.20 L855.24,116.67 L855.98,119.14 L856.71,121.60 L857.45,124.05 L858.19,126.49 L858.92,128.92 L859.66,131.35 L860.39,133.77 L861.13,136.17 L861.87,138.57 L862.60,140.96 L863.34,143.35 L864.08,145.72 L864.81,148.09 L865.55,150.45 L866.28,152.80 L867.02,155.14 L867.76,157.48 L868.49,159.80 L869.23,162.12 L869.96,164.43 L870.70,166.73 L871.44,169.03 L872.17,171.31 L872.91,173.59 L873.65,175.86 L874.38,178.13 L875.12,180.38 L875.85,182.63 L876.59,184.87 L877.33,187.10 L878.06,189.32 L878.80,191.54 L879.54,193.75 L880.27,195.95 L881.01,198.14 L881.74,200.33 L882.48,202.51 L883.22,204.68 L883.95,206.84 L884.69,209.00 L885.43,211.15 L886.16,213.29 L886.90,215.42 L887.63,217.55 L888.37,219.67 L889.11,221.78 L889.84,223.88 L890.58,225.98 L891.32,228.07 L892.05,230.15 L892.79,232.23 L893.52,234.30 L894.26,236.36 L895.00,238.41 L895.73,240.46 L896.47,242.50 L897.21,244.53 L897.94,246.56 L898.68,248.57 L899.41,250.59 L900.15,252.59 L900.89,254.59 L901.62,256.58 L902.36,258.56 L903.10,260.54 L903.83,262.51 L904.57,264.48 L905.30,266.43 L906.04,268.38 L906.78,270.33 L907.51,272.26 L908.25,274.19 L908.98,276.12 L909.72,278.03 L910.46,279.94 L911.19,281.85 L911.93,283.74 L912.67,285.63 L913.40,287.52 L914.14,289.40 L914.87,291.27 L915.61,293.13 L916.35,294.99 L917.08,296.84 L917.82,298.69 L918.56,300.52 L919.29,302.36 L920.03,304.18 L920.76,306.00 L921.50,307.82 L922.24,309.62 L922.97,311.42 L923.71,313.22 L924.45,315.01 L925.18,316.79 L925.92,318.57 L926.65,320.34 L927.39,322.10 L928.13,323.86 L928.86,325.61 L929.60,327.36 L930.34,329.10 L931.07,330.83 L931.81,332.56 L932.54,334.28 L933.28,335.99 L934.02,337.70 L934.75,339.41 L935.49,341.11 L936.23,342.80 L936.96,344.49 L937.70,346.17 L938.43,347.84 L939.17,349.51 L939.91,351.17 L940.64,352.83 L941.38,354.48 L942.12,356.13 L942.85,357.77 L943.59,359.40 L944.32,361.03 L945.06,362.65 L945.80,364.27 L946.53,365.88 L947.27,367.49 L948.01,369.09 L948.74,370.69 L949.48,372.28 L950.21,373.86 L950.95,375.44 L951.69,377.01 L952.42,378.58 L953.16,380.15 L953.89,381.70 L954.63,383.25 L955.37,384.80 L956.10,386.34 L956.84,387.88 L957.58,389.41 L958.31,390.93 L959.05,392.45 L959.78,393.97 L960.52,395.48 L961.26,396.98 L961.99,398.48 L962.73,399.97 L963.47,401.46 L964.20,402.95 L964.94,404.43 L965.67,405.90 L966.41,407.37 L967.15,408.83 L967.88,410.29 L968.62,411.74 L969.36,413.19 L970.09,414.63 L970.83,416.07 L971.56,417.50 L972.30,418.93 L973.04,420.35 L973.77,421.77 L974.51,423.18 L975.25,424.59 L975.98,426.00 L976.72,427.39 L977.45,428.79 L978.19,430.18 L978.93,431.56 L979.66,432.94 L980.40,434.31 L981.14,435.68 L981.87,437.05 L982.61,438.41 L983.34,439.77 L984.08,441.12 L984.82,442.46 L985.55,443.80 L986.29,445.14 L987.03,446.47 L987.76,447.80 L988.50,449.12 L989.23,450.44 L989.97,451.76 L990.71,453.06 L991.44,454.37 L992.18,455.67 L992.91,456.97 L993.65,458.26 L994.39,459.54 L995.12,460.83 L995.86,462.10 L996.60,463.38 L997.33,464.65 L998.07,465.91 L998.80,467.17 L999.54,468.43 L1000.28,469.68 L1001.01,470.92 L1001.75,472.17 L1002.49,473.41 L1003.22,474.64 L1003.96,475.87 L1004.69,477.09 L1005.43,478.32 L1006.17,479.53 L1006.90,480.75 L1007.64,481.95 L1008.38,483.16 L1009.11,484.36 L1009.85,485.56 L1010.58,486.75 L1011.32,487.93 L1012.06,489.12 L1012.79,490.30 L1013.53,491.47 L1014.27,492.64 L1015.00,493.81 L1015.74,494.97 L1016.47,496.13 L1017.21,497.29 L1017.95,498.44 L1018.68,499.59 L1019.42,500.73 L1020.16,501.87 L1020.89,503.00 L1021.63,504.13 L1022.36,505.26 L1023.10,506.39 L1023.84,507.50 L1024.57,508.62 L1025.31,509.73 L1026.05,510.84 L1026.78,511.94 L1027.52,513.04 L1028.25,514.14 L1028.99,515.23 L1029.73,516.32 L1030.46,517.40 L1031.20,518.49 L1031.93,519.56 L1032.67,520.64 L1033.41,521.71 L1034.14,522.77 L1034.88,523.83 L1035.62,524.89 L1036.35,525.95 L1037.09,527.00 L1037.82,528.04 L1038.56,529.09 L1039.30,530.13 L1040.03,531.16 L1040.77,532.20 L1041.51,533.23 L1042.24,534.25 L1042.98,535.27 L1043.71,536.29 L1044.45,537.31 L1045.19,538.32 L1045.92,539.33 L1046.66,540.33 L1047.40,541.33 L1048.13,542.33 L1048.87,543.32 L1049.60,544.31 L1050.34,545.30 L1051.08,546.28 L1051.81,547.26 L1052.55,548.24 L1053.29,549.21 L1054.02,550.18 L1054.76,551.15 L1055.49,552.11 L1056.23,553.07 L1056.97,554.02 L1057.70,554.98 L1058.44,555.93 L1059.18,556.87 L1059.91,557.81 L1060.65,558.75 L1061.38,559.69 L1062.12,560.62 L1062.86,561.55 L1063.59,562.48 L1064.33,563.40 L1065.07,564.32 L1065.80,565.23 L1066.54,566.15 L1067.27,567.06 L1068.01,567.96 L1068.75,568.87 L1069.48,569.77 L1070.22,570.66 L1070.95,571.56 L1071.69,572.45 L1072.43,573.34 L1073.16,574.22 L1073.90,575.10 L1074.64,575.98 L1075.37,576.85 L1076.11,577.73 L1076.84,578.59 L1077.58,579.46 L1078.32,580.32 L1079.05,581.18 L1079.79,582.04 L1080.53,582.89 L1081.26,583.74 L1082.00,584.59 L1082.73,585.43 L1083.47,586.27 L1084.21,587.11 L1084.94,587.95 L1085.68,588.78 L1086.42,589.61 L1087.15,590.43 L1087.89,591.26 L1088.62,592.08 L1089.36,592.90 L1090.10,593.71 L1090.83,594.52 L1091.57,595.33 L1092.31,596.14 L1093.04,596.94 L1093.78,597.74 L1094.51,598.54 L1095.25,599.33 L1095.99,600.12 L1096.72,600.91 L1097.46,601.70 L1098.20,602.48 L1098.93,603.26 L1099.67,604.04 L1100.40,604.81 L1101.14,605.58 L1101.88,606.35 L1102.61,607.12 L1103.35,607.88 L1104.09,608.64 L1104.82,609.40 L1105.56,610.15 L1106.29,610.90 L1107.03,611.65 L1107.77,612.40 L1108.50,613.14 L1109.24,613.89 L1109.97,614.62 L1110.71,615.36 L1111.45,616.09 L1112.18,616.82 L1112.92,617.55 L1113.66,618.28 L1114.39,619.00 L1115.13,619.72 L1115.86,620.44 L1116.60,621.15 L1117.34,621.86 L1118.07,622.57 L1118.81,623.28 L1119.55,623.98 L1120.28,624.68 L1121.02,625.38 L1121.75,626.08 L1122.49,626.77 L1123.23,627.46 L1123.96,628.15 L1124.70,628.84 L1125.44,629.52 L1126.17,630.20 L1126.91,630.88 L1127.64,631.56 L1128.38,632.23 L1129.12,632.90 L1129.85,633.57 L1130.59,634.23 L1131.33,634.90 L1132.06,635.56 L1132.80,636.22 L1133.53,636.87 L1134.27,637.53 L1135.01,638.18 L1135.74,638.82 L1136.48,639.47 L1137.22,640.11 L1137.95,640.75 L1138.69,641.39 L1139.42,642.03 L1140.16,642.66 L1140.90,643.29 L1141.63,643.92 L1142.37,644.55 L1143.11,645.17 L1143.84,645.79 L1144.58,646.41 L1145.31,647.03 L1146.05,647.65 L1146.79,648.26 L1147.52,648.87 L1148.26,649.47 L1148.99,650.08 L1149.73,650.68 L1150.47,651.28 L1151.20,651.88 L1151.94,652.48 L1152.68,653.07 L1153.41,653.66 L1154.15,654.25 L1154.88,654.83 L1155.62,655.42 L1156.36,656.00 L1157.09,656.58 L1157.83,657.16 L1158.57,657.73 L1159.30,658.30 L1160.04,658.87 L1160.77,659.44 L1161.51,660.01 L1162.25,660.57 L1162.98,661.13 L1163.72,661.69 L1164.46,662.25 L1165.19,662.80 L1165.93,663.35 L1166.66,663.90 L1167.40,664.45 L1168.14,664.99 L1168.87,665.54 L1169.61,666.08 L1170.35,666.62 L1171.08,667.15 L1171.82,667.69 L1172.55,668.22 L1173.29,668.75 L1174.03,669.27 L1174.76,669.80 L1175.50,670.32 L1176.24,670.84 L1176.97,671.36 L1177.71,671.88 L1178.44,672.39 L1179.18,672.90 L1179.92,673.41 L1180.65,673.92 L1181.39,674.43 L1182.13,674.93 L1182.86,675.43 L1183.60,675.93 L1184.33,676.43 L1185.07,676.92 L1185.81,677.41 L1186.54,677.90 L1187.28,678.39 L1188.02,678.88 L1188.75,679.36 L1189.49,679.84 L1190.22,680.32 L1190.96,680.80 L1191.70,681.27 L1192.43,681.75 L1193.17,682.22 L1193.90,682.68 L1194.64,683.15 L1195.38,683.62 L1196.11,684.08 L1196.85,684.54 L1197.59,685.00 L1198.32,685.45 L1199.06,685.90 L1199.79,686.36 L1200.53,686.81 L1201.27,687.25 L1202.00,687.70 L1202.74,688.14 L1203.48,688.58 L1204.21,689.02 L1204.95,689.46 L1205.68,689.89 L1206.42,690.32 L1207.16,690.75 L1207.89,691.18 L1208.63,691.61 L1209.37,692.03 L1210.10,692.45 L1210.84,692.87 L1211.57,693.29 L1212.31,693.70 L1213.05,694.12 L1213.78,694.53 L1214.52,694.94 L1215.26,695.34 L1215.99,695.75 L1216.73,696.15 L1217.46,696.55 L1218.20,696.95 L1218.94,697.34 L1219.67,697.74 L1220.41,698.13 L1221.15,698.52 L1221.88,698.91 L1222.62,699.29 L1223.35,699.68 L1224.09,700.06 L1224.83,700.44 L1225.56,700.81 L1226.30,701.19 L1227.04,701.56 L1227.77,701.93 L1228.51,702.30 L1229.24,702.66 L1229.98,703.03 L1230.72,703.39 L1231.45,703.75 L1232.19,704.11 L1232.92,704.46 L1233.66,704.82 L1234.40,705.17 L1235.13,705.51 L1235.87,705.86 L1236.61,706.21 L1237.34,706.55 L1238.08,706.89 L1238.81,707.23 L1239.55,707.56 L1240.29,707.89 L1241.02,708.23 L1241.76,708.55 L1242.50,708.88 L1243.23,709.21 L1243.97,709.53 L1244.70,709.85 L1245.44,710.17 L1246.18,710.48 L1246.91,710.79 L1247.65,711.11 L1248.39,711.41 L1249.12,711.72 L1249.86,712.03 L1250.59,712.33 L1251.33,712.63 L1252.07,712.92 L1252.80,713.22 L1253.54,713.51 L1254.28,713.80 L1255.01,714.09 L1255.75,714.38 L1256.48,714.66 L1257.22,714.94 L1257.96,715.22 L1258.69,715.50 L1259.43,715.77 L1260.17,716.05 L1260.90,716.31 L1261.64,716.58 L1262.37,716.85 L1263.11,717.11 L1263.85,717.37 L1264.58,717.63 L1265.32,717.88 L1266.06,718.14 L1266.79,718.39 L1267.53,718.63 L1268.26,718.88 L1269.00,719.12" fill="none" stroke="#000" stroke-width="5"/>
<path d="M857.40,18v16.5 M857.40,832v-16.5 M886.80,18v16.5 M886.80,832v-16.5 M916.20,18v16.5 M916.20,832v-16.5 M945.60,18v16.5 M945.60,832v-16.5 M975.00,18v34 M975.00,832v-34 M1004.40,18v16.5 M1004.40,832v-16.5 M1033.80,18v16.5 M1033.80,832v-16.5 M1063.20,18v16.5 M1063.20,832v-16.5 M1092.60,18v16.5 M1092.60,832v-16.5 M1122.00,18v34 M1122.00,832v-34 M1151.40,18v16.5 M1151.40,832v-16.5 M1180.80,18v16.5 M1180.80,832v-16.5 M1210.20,18v16.5 M1210.20,832v-16.5 M1239.60,18v16.5 M1239.60,832v-16.5 M828,791.30h16.5 M1269,791.30h-16.5 M828,750.60h16.5 M1269,750.60h-16.5 M828,709.90h16.5 M1269,709.90h-16.5 M828,669.20h16.5 M1269,669.20h-16.5 M828,628.50h34 M1269,628.50h-34 M828,587.80h16.5 M1269,587.80h-16.5 M828,547.10h16.5 M1269,547.10h-16.5 M828,506.40h16.5 M1269,506.40h-16.5 M828,465.70h16.5 M1269,465.70h-16.5 M828,425.00h34 M1269,425.00h-34 M828,384.30h16.5 M1269,384.30h-16.5 M828,343.60h16.5 M1269,343.60h-16.5 M828,302.90h16.5 M1269,302.90h-16.5 M828,262.20h16.5 M1269,262.20h-16.5 M828,221.50h34 M1269,221.50h-34 M828,180.80h16.5 M1269,180.80h-16.5 M828,140.10h16.5 M1269,140.10h-16.5 M828,99.40h16.5 M1269,99.40h-16.5 M828,58.70h16.5 M1269,58.70h-16.5" stroke="#000" stroke-width="3" stroke-linecap="round" fill="none"/>
<rect x="828" y="18" width="441" height="814" fill="none" stroke="#000" stroke-width="3.2" stroke-linejoin="round"/>
<rect x="1223" y="17" width="47.5" height="60" fill="#000"/>
<text x="1246" y="72" font-family="Liberation Serif" font-size="72" fill="#fff" text-anchor="middle">b</text>
<!-- arrows -->
<path d="M1114.7,296.5 V372" stroke="#000" stroke-width="2.6"/>
<path d="M1106.7,369.4 L1122.7,369.4 L1114.7,396.4 Z" fill="#000"/>
<path d="M933.75,676.9 L936.4,525" stroke="#000" stroke-width="2.6"/>
<path d="M929,528 L945,528 L937,501.9 Z" fill="#000"/>
<!-- tick labels -->
<g font-family="Liberation Serif" font-size="47" fill="#000" text-anchor="middle">
<text x="88" y="888">4,2</text>
<text x="198" y="888">4,4</text>
<text x="308" y="888">4,6</text>
<text x="418" y="888">4,8</text>
<text x="528" y="888">5</text>
<text x="828" y="888">0</text>
<text x="975" y="888">1</text>
<text x="1122" y="888">2</text>
<text x="1268" y="888">3</text>
</g>
<g font-family="Liberation Serif" font-size="47" fill="#000" text-anchor="end" transform="translate(1,0)">
<text x="812" y="34">100</text>
<text x="812" y="237">75</text>
<text x="812" y="441">50</text>
<text x="812" y="644">25</text>
<text x="812" y="848">0</text>
</g>
<!-- annotations -->
<g font-family="Liberation Serif" font-size="35.5" fill="#000">
<text x="1039" y="246">Only N<tspan font-size="23" dy="6">2</tspan><tspan dy="-6">O</tspan></text>
<text x="858.8" y="746.5">x% N<tspan font-size="23" dy="6">2</tspan><tspan dy="-6">O + (100-x)% CO</tspan></text>
</g>
<!-- axis titles -->
<g font-family="Liberation Serif" font-size="47.5" font-weight="bold" fill="#000" text-anchor="middle">
<text x="308" y="966">Wavelength, <tspan font-style="italic">λ (μm)</tspan></text>
<text x="1048" y="966">Concentration, %</text>
<text transform="translate(39.6,425.4) rotate(-90)" font-size="47">Transmission, a.u</text>
<text transform="translate(576,424) rotate(90)">Cross section, a.u.</text>
<text transform="translate(725.3,425) rotate(-90)">Area, %</text>
</g>
</svg>
</body></html>
